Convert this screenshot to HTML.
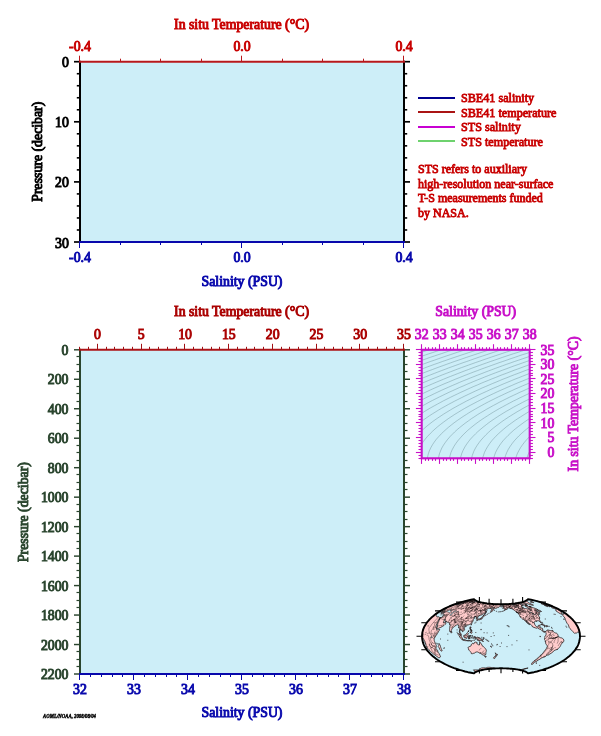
<!DOCTYPE html>
<html><head><meta charset="utf-8"><title>Float profile</title>
<style>
html,body{margin:0;padding:0;background:#fff;}
body{width:601px;height:736px;overflow:hidden;font-family:"Liberation Serif",serif;}
svg{display:block;font-family:"Liberation Serif",serif;will-change:transform;transform:translateZ(0);}
</style></head><body>
<svg width="601" height="736" viewBox="0 0 601 736">
<rect width="601" height="736" fill="#ffffff"/>
<rect x="80.0" y="61.7" width="324.0" height="180.3" fill="#cdeef8"/>
<line x1="80.00" y1="60.70" x2="80.00" y2="243.00" stroke="#000000" stroke-width="2"/>
<line x1="80.00" y1="61.70" x2="74.00" y2="61.70" stroke="#000000" stroke-width="1.7"/>
<line x1="80.00" y1="73.72" x2="76.80" y2="73.72" stroke="#000000" stroke-width="1.6"/>
<line x1="80.00" y1="85.74" x2="76.80" y2="85.74" stroke="#000000" stroke-width="1.6"/>
<line x1="80.00" y1="97.76" x2="76.80" y2="97.76" stroke="#000000" stroke-width="1.6"/>
<line x1="80.00" y1="109.78" x2="76.80" y2="109.78" stroke="#000000" stroke-width="1.6"/>
<line x1="80.00" y1="121.80" x2="74.00" y2="121.80" stroke="#000000" stroke-width="1.7"/>
<line x1="80.00" y1="133.82" x2="76.80" y2="133.82" stroke="#000000" stroke-width="1.6"/>
<line x1="80.00" y1="145.84" x2="76.80" y2="145.84" stroke="#000000" stroke-width="1.6"/>
<line x1="80.00" y1="157.86" x2="76.80" y2="157.86" stroke="#000000" stroke-width="1.6"/>
<line x1="80.00" y1="169.88" x2="76.80" y2="169.88" stroke="#000000" stroke-width="1.6"/>
<line x1="80.00" y1="181.90" x2="74.00" y2="181.90" stroke="#000000" stroke-width="1.7"/>
<line x1="80.00" y1="193.92" x2="76.80" y2="193.92" stroke="#000000" stroke-width="1.6"/>
<line x1="80.00" y1="205.94" x2="76.80" y2="205.94" stroke="#000000" stroke-width="1.6"/>
<line x1="80.00" y1="217.96" x2="76.80" y2="217.96" stroke="#000000" stroke-width="1.6"/>
<line x1="80.00" y1="229.98" x2="76.80" y2="229.98" stroke="#000000" stroke-width="1.6"/>
<line x1="80.00" y1="242.00" x2="74.00" y2="242.00" stroke="#000000" stroke-width="1.7"/>
<line x1="404.00" y1="60.70" x2="404.00" y2="243.00" stroke="#000000" stroke-width="2"/>
<line x1="404.00" y1="61.70" x2="410.00" y2="61.70" stroke="#000000" stroke-width="1.7"/>
<line x1="404.00" y1="73.72" x2="407.20" y2="73.72" stroke="#000000" stroke-width="1.6"/>
<line x1="404.00" y1="85.74" x2="407.20" y2="85.74" stroke="#000000" stroke-width="1.6"/>
<line x1="404.00" y1="97.76" x2="407.20" y2="97.76" stroke="#000000" stroke-width="1.6"/>
<line x1="404.00" y1="109.78" x2="407.20" y2="109.78" stroke="#000000" stroke-width="1.6"/>
<line x1="404.00" y1="121.80" x2="410.00" y2="121.80" stroke="#000000" stroke-width="1.7"/>
<line x1="404.00" y1="133.82" x2="407.20" y2="133.82" stroke="#000000" stroke-width="1.6"/>
<line x1="404.00" y1="145.84" x2="407.20" y2="145.84" stroke="#000000" stroke-width="1.6"/>
<line x1="404.00" y1="157.86" x2="407.20" y2="157.86" stroke="#000000" stroke-width="1.6"/>
<line x1="404.00" y1="169.88" x2="407.20" y2="169.88" stroke="#000000" stroke-width="1.6"/>
<line x1="404.00" y1="181.90" x2="410.00" y2="181.90" stroke="#000000" stroke-width="1.7"/>
<line x1="404.00" y1="193.92" x2="407.20" y2="193.92" stroke="#000000" stroke-width="1.6"/>
<line x1="404.00" y1="205.94" x2="407.20" y2="205.94" stroke="#000000" stroke-width="1.6"/>
<line x1="404.00" y1="217.96" x2="407.20" y2="217.96" stroke="#000000" stroke-width="1.6"/>
<line x1="404.00" y1="229.98" x2="407.20" y2="229.98" stroke="#000000" stroke-width="1.6"/>
<line x1="404.00" y1="242.00" x2="410.00" y2="242.00" stroke="#000000" stroke-width="1.7"/>
<line x1="79.00" y1="61.70" x2="405.00" y2="61.70" stroke="#b8181c" stroke-width="2"/>
<line x1="79.50" y1="61.70" x2="79.50" y2="55.70" stroke="#b8181c" stroke-width="1"/>
<line x1="120.50" y1="61.70" x2="120.50" y2="58.70" stroke="#b8181c" stroke-width="1"/>
<line x1="160.50" y1="61.70" x2="160.50" y2="58.70" stroke="#b8181c" stroke-width="1"/>
<line x1="201.50" y1="61.70" x2="201.50" y2="58.70" stroke="#b8181c" stroke-width="1"/>
<line x1="241.50" y1="61.70" x2="241.50" y2="55.70" stroke="#b8181c" stroke-width="1"/>
<line x1="282.50" y1="61.70" x2="282.50" y2="58.70" stroke="#b8181c" stroke-width="1"/>
<line x1="322.50" y1="61.70" x2="322.50" y2="58.70" stroke="#b8181c" stroke-width="1"/>
<line x1="363.50" y1="61.70" x2="363.50" y2="58.70" stroke="#b8181c" stroke-width="1"/>
<line x1="403.50" y1="61.70" x2="403.50" y2="55.70" stroke="#b8181c" stroke-width="1"/>
<line x1="79.00" y1="242.00" x2="405.00" y2="242.00" stroke="#0808ac" stroke-width="2"/>
<line x1="79.50" y1="242.00" x2="79.50" y2="248.00" stroke="#0808ac" stroke-width="1"/>
<line x1="120.50" y1="242.00" x2="120.50" y2="245.00" stroke="#0808ac" stroke-width="1"/>
<line x1="160.50" y1="242.00" x2="160.50" y2="245.00" stroke="#0808ac" stroke-width="1"/>
<line x1="201.50" y1="242.00" x2="201.50" y2="245.00" stroke="#0808ac" stroke-width="1"/>
<line x1="241.50" y1="242.00" x2="241.50" y2="248.00" stroke="#0808ac" stroke-width="1"/>
<line x1="282.50" y1="242.00" x2="282.50" y2="245.00" stroke="#0808ac" stroke-width="1"/>
<line x1="322.50" y1="242.00" x2="322.50" y2="245.00" stroke="#0808ac" stroke-width="1"/>
<line x1="363.50" y1="242.00" x2="363.50" y2="245.00" stroke="#0808ac" stroke-width="1"/>
<line x1="403.50" y1="242.00" x2="403.50" y2="248.00" stroke="#0808ac" stroke-width="1"/>
<text transform="translate(80.00,50.50) scale(1,1)" fill="#c80000" stroke="#c80000" stroke-width="0.95" font-size="13.8" text-anchor="middle" font-weight="normal" >-0.4</text>
<text transform="translate(80.00,261.90) scale(1,1)" fill="#0808ac" stroke="#0808ac" stroke-width="0.95" font-size="13.8" text-anchor="middle" font-weight="normal" >-0.4</text>
<text transform="translate(242.00,50.50) scale(1,1)" fill="#c80000" stroke="#c80000" stroke-width="0.95" font-size="13.8" text-anchor="middle" font-weight="normal" >0.0</text>
<text transform="translate(242.00,261.90) scale(1,1)" fill="#0808ac" stroke="#0808ac" stroke-width="0.95" font-size="13.8" text-anchor="middle" font-weight="normal" >0.0</text>
<text transform="translate(404.00,50.50) scale(1,1)" fill="#c80000" stroke="#c80000" stroke-width="0.95" font-size="13.8" text-anchor="middle" font-weight="normal" >0.4</text>
<text transform="translate(404.00,261.90) scale(1,1)" fill="#0808ac" stroke="#0808ac" stroke-width="0.95" font-size="13.8" text-anchor="middle" font-weight="normal" >0.4</text>
<text transform="translate(68.80,67.20) scale(1,1)" fill="#000000" stroke="#000000" stroke-width="0.95" font-size="13.8" text-anchor="end" font-weight="normal" >0</text>
<text transform="translate(68.80,127.30) scale(1,1)" fill="#000000" stroke="#000000" stroke-width="0.95" font-size="13.8" text-anchor="end" font-weight="normal" >10</text>
<text transform="translate(68.80,187.40) scale(1,1)" fill="#000000" stroke="#000000" stroke-width="0.95" font-size="13.8" text-anchor="end" font-weight="normal" >20</text>
<text transform="translate(68.80,247.50) scale(1,1)" fill="#000000" stroke="#000000" stroke-width="0.95" font-size="13.8" text-anchor="end" font-weight="normal" >30</text>
<text transform="translate(241.50,29.00) scale(1,1)" fill="#c80000" stroke="#c80000" stroke-width="0.95" font-size="13.8" text-anchor="middle" font-weight="normal" >In situ Temperature (&#176;C)</text>
<text transform="translate(242.00,285.50) scale(1,1)" fill="#0808ac" stroke="#0808ac" stroke-width="0.95" font-size="13.8" text-anchor="middle" font-weight="normal" >Salinity (PSU)</text>
<g transform="translate(42,151.7) rotate(-90)">
<text transform="translate(0.00,0.00) scale(1,1)" fill="#000000" stroke="#000000" stroke-width="0.95" font-size="13.8" text-anchor="middle" font-weight="normal" >Pressure (decibar)</text>
</g>
<line x1="418.00" y1="98.00" x2="455.00" y2="98.00" stroke="#000090" stroke-width="2"/>
<text transform="translate(461.00,102.30) scale(1,1)" fill="#c80000" stroke="#c80000" stroke-width="0.8" font-size="12.15" text-anchor="start" font-weight="normal" >SBE41 salinity</text>
<line x1="418.00" y1="112.00" x2="455.00" y2="112.00" stroke="#aa1414" stroke-width="2"/>
<text transform="translate(461.00,116.80) scale(1,1)" fill="#c80000" stroke="#c80000" stroke-width="0.8" font-size="12.15" text-anchor="start" font-weight="normal" >SBE41 temperature</text>
<line x1="418.00" y1="127.00" x2="455.00" y2="127.00" stroke="#c800d2" stroke-width="2"/>
<text transform="translate(461.00,131.30) scale(1,1)" fill="#c80000" stroke="#c80000" stroke-width="0.8" font-size="12.15" text-anchor="start" font-weight="normal" >STS salinity</text>
<line x1="418.00" y1="141.00" x2="455.00" y2="141.00" stroke="#6ed26e" stroke-width="2"/>
<text transform="translate(461.00,145.80) scale(1,1)" fill="#c80000" stroke="#c80000" stroke-width="0.8" font-size="12.15" text-anchor="start" font-weight="normal" >STS temperature</text>
<text transform="translate(418.00,173.40) scale(1,1)" fill="#c80000" stroke="#c80000" stroke-width="0.8" font-size="12" text-anchor="start" font-weight="normal" >STS refers to auxiliary</text>
<text transform="translate(418.00,187.80) scale(1,1)" fill="#c80000" stroke="#c80000" stroke-width="0.8" font-size="12" text-anchor="start" font-weight="normal" >high-resolution near-surface</text>
<text transform="translate(418.00,202.20) scale(1,1)" fill="#c80000" stroke="#c80000" stroke-width="0.8" font-size="12" text-anchor="start" font-weight="normal" >T-S measurements funded</text>
<text transform="translate(418.00,216.60) scale(1,1)" fill="#c80000" stroke="#c80000" stroke-width="0.8" font-size="12" text-anchor="start" font-weight="normal" >by NASA.</text>
<rect x="80.0" y="349.8" width="324.0" height="324.2" fill="#cdeef8"/>
<line x1="80.00" y1="348.80" x2="80.00" y2="675.00" stroke="#2a452e" stroke-width="2"/>
<line x1="80.00" y1="349.80" x2="74.00" y2="349.80" stroke="#2a452e" stroke-width="1.45"/>
<line x1="80.00" y1="356.50" x2="76.50" y2="356.50" stroke="#2a452e" stroke-width="1.2"/>
<line x1="80.00" y1="364.50" x2="76.50" y2="364.50" stroke="#2a452e" stroke-width="1.2"/>
<line x1="80.00" y1="371.50" x2="76.50" y2="371.50" stroke="#2a452e" stroke-width="1.2"/>
<line x1="80.00" y1="379.27" x2="74.00" y2="379.27" stroke="#2a452e" stroke-width="1.45"/>
<line x1="80.00" y1="386.50" x2="76.50" y2="386.50" stroke="#2a452e" stroke-width="1.2"/>
<line x1="80.00" y1="393.50" x2="76.50" y2="393.50" stroke="#2a452e" stroke-width="1.2"/>
<line x1="80.00" y1="401.50" x2="76.50" y2="401.50" stroke="#2a452e" stroke-width="1.2"/>
<line x1="80.00" y1="408.75" x2="74.00" y2="408.75" stroke="#2a452e" stroke-width="1.45"/>
<line x1="80.00" y1="415.50" x2="76.50" y2="415.50" stroke="#2a452e" stroke-width="1.2"/>
<line x1="80.00" y1="423.50" x2="76.50" y2="423.50" stroke="#2a452e" stroke-width="1.2"/>
<line x1="80.00" y1="430.50" x2="76.50" y2="430.50" stroke="#2a452e" stroke-width="1.2"/>
<line x1="80.00" y1="438.22" x2="74.00" y2="438.22" stroke="#2a452e" stroke-width="1.45"/>
<line x1="80.00" y1="445.50" x2="76.50" y2="445.50" stroke="#2a452e" stroke-width="1.2"/>
<line x1="80.00" y1="452.50" x2="76.50" y2="452.50" stroke="#2a452e" stroke-width="1.2"/>
<line x1="80.00" y1="460.50" x2="76.50" y2="460.50" stroke="#2a452e" stroke-width="1.2"/>
<line x1="80.00" y1="467.69" x2="74.00" y2="467.69" stroke="#2a452e" stroke-width="1.45"/>
<line x1="80.00" y1="474.50" x2="76.50" y2="474.50" stroke="#2a452e" stroke-width="1.2"/>
<line x1="80.00" y1="482.50" x2="76.50" y2="482.50" stroke="#2a452e" stroke-width="1.2"/>
<line x1="80.00" y1="489.50" x2="76.50" y2="489.50" stroke="#2a452e" stroke-width="1.2"/>
<line x1="80.00" y1="497.16" x2="74.00" y2="497.16" stroke="#2a452e" stroke-width="1.45"/>
<line x1="80.00" y1="504.50" x2="76.50" y2="504.50" stroke="#2a452e" stroke-width="1.2"/>
<line x1="80.00" y1="511.50" x2="76.50" y2="511.50" stroke="#2a452e" stroke-width="1.2"/>
<line x1="80.00" y1="519.50" x2="76.50" y2="519.50" stroke="#2a452e" stroke-width="1.2"/>
<line x1="80.00" y1="526.64" x2="74.00" y2="526.64" stroke="#2a452e" stroke-width="1.45"/>
<line x1="80.00" y1="533.50" x2="76.50" y2="533.50" stroke="#2a452e" stroke-width="1.2"/>
<line x1="80.00" y1="541.50" x2="76.50" y2="541.50" stroke="#2a452e" stroke-width="1.2"/>
<line x1="80.00" y1="548.50" x2="76.50" y2="548.50" stroke="#2a452e" stroke-width="1.2"/>
<line x1="80.00" y1="556.11" x2="74.00" y2="556.11" stroke="#2a452e" stroke-width="1.45"/>
<line x1="80.00" y1="563.50" x2="76.50" y2="563.50" stroke="#2a452e" stroke-width="1.2"/>
<line x1="80.00" y1="570.50" x2="76.50" y2="570.50" stroke="#2a452e" stroke-width="1.2"/>
<line x1="80.00" y1="577.50" x2="76.50" y2="577.50" stroke="#2a452e" stroke-width="1.2"/>
<line x1="80.00" y1="585.58" x2="74.00" y2="585.58" stroke="#2a452e" stroke-width="1.45"/>
<line x1="80.00" y1="592.50" x2="76.50" y2="592.50" stroke="#2a452e" stroke-width="1.2"/>
<line x1="80.00" y1="600.50" x2="76.50" y2="600.50" stroke="#2a452e" stroke-width="1.2"/>
<line x1="80.00" y1="607.50" x2="76.50" y2="607.50" stroke="#2a452e" stroke-width="1.2"/>
<line x1="80.00" y1="615.05" x2="74.00" y2="615.05" stroke="#2a452e" stroke-width="1.45"/>
<line x1="80.00" y1="622.50" x2="76.50" y2="622.50" stroke="#2a452e" stroke-width="1.2"/>
<line x1="80.00" y1="629.50" x2="76.50" y2="629.50" stroke="#2a452e" stroke-width="1.2"/>
<line x1="80.00" y1="636.50" x2="76.50" y2="636.50" stroke="#2a452e" stroke-width="1.2"/>
<line x1="80.00" y1="644.53" x2="74.00" y2="644.53" stroke="#2a452e" stroke-width="1.45"/>
<line x1="80.00" y1="651.50" x2="76.50" y2="651.50" stroke="#2a452e" stroke-width="1.2"/>
<line x1="80.00" y1="659.50" x2="76.50" y2="659.50" stroke="#2a452e" stroke-width="1.2"/>
<line x1="80.00" y1="666.50" x2="76.50" y2="666.50" stroke="#2a452e" stroke-width="1.2"/>
<line x1="80.00" y1="674.00" x2="74.00" y2="674.00" stroke="#2a452e" stroke-width="1.45"/>
<line x1="404.00" y1="348.80" x2="404.00" y2="675.00" stroke="#2a452e" stroke-width="2"/>
<line x1="404.00" y1="349.80" x2="410.00" y2="349.80" stroke="#2a452e" stroke-width="1.45"/>
<line x1="404.00" y1="356.50" x2="407.50" y2="356.50" stroke="#2a452e" stroke-width="1.2"/>
<line x1="404.00" y1="364.50" x2="407.50" y2="364.50" stroke="#2a452e" stroke-width="1.2"/>
<line x1="404.00" y1="371.50" x2="407.50" y2="371.50" stroke="#2a452e" stroke-width="1.2"/>
<line x1="404.00" y1="379.27" x2="410.00" y2="379.27" stroke="#2a452e" stroke-width="1.45"/>
<line x1="404.00" y1="386.50" x2="407.50" y2="386.50" stroke="#2a452e" stroke-width="1.2"/>
<line x1="404.00" y1="393.50" x2="407.50" y2="393.50" stroke="#2a452e" stroke-width="1.2"/>
<line x1="404.00" y1="401.50" x2="407.50" y2="401.50" stroke="#2a452e" stroke-width="1.2"/>
<line x1="404.00" y1="408.75" x2="410.00" y2="408.75" stroke="#2a452e" stroke-width="1.45"/>
<line x1="404.00" y1="415.50" x2="407.50" y2="415.50" stroke="#2a452e" stroke-width="1.2"/>
<line x1="404.00" y1="423.50" x2="407.50" y2="423.50" stroke="#2a452e" stroke-width="1.2"/>
<line x1="404.00" y1="430.50" x2="407.50" y2="430.50" stroke="#2a452e" stroke-width="1.2"/>
<line x1="404.00" y1="438.22" x2="410.00" y2="438.22" stroke="#2a452e" stroke-width="1.45"/>
<line x1="404.00" y1="445.50" x2="407.50" y2="445.50" stroke="#2a452e" stroke-width="1.2"/>
<line x1="404.00" y1="452.50" x2="407.50" y2="452.50" stroke="#2a452e" stroke-width="1.2"/>
<line x1="404.00" y1="460.50" x2="407.50" y2="460.50" stroke="#2a452e" stroke-width="1.2"/>
<line x1="404.00" y1="467.69" x2="410.00" y2="467.69" stroke="#2a452e" stroke-width="1.45"/>
<line x1="404.00" y1="474.50" x2="407.50" y2="474.50" stroke="#2a452e" stroke-width="1.2"/>
<line x1="404.00" y1="482.50" x2="407.50" y2="482.50" stroke="#2a452e" stroke-width="1.2"/>
<line x1="404.00" y1="489.50" x2="407.50" y2="489.50" stroke="#2a452e" stroke-width="1.2"/>
<line x1="404.00" y1="497.16" x2="410.00" y2="497.16" stroke="#2a452e" stroke-width="1.45"/>
<line x1="404.00" y1="504.50" x2="407.50" y2="504.50" stroke="#2a452e" stroke-width="1.2"/>
<line x1="404.00" y1="511.50" x2="407.50" y2="511.50" stroke="#2a452e" stroke-width="1.2"/>
<line x1="404.00" y1="519.50" x2="407.50" y2="519.50" stroke="#2a452e" stroke-width="1.2"/>
<line x1="404.00" y1="526.64" x2="410.00" y2="526.64" stroke="#2a452e" stroke-width="1.45"/>
<line x1="404.00" y1="533.50" x2="407.50" y2="533.50" stroke="#2a452e" stroke-width="1.2"/>
<line x1="404.00" y1="541.50" x2="407.50" y2="541.50" stroke="#2a452e" stroke-width="1.2"/>
<line x1="404.00" y1="548.50" x2="407.50" y2="548.50" stroke="#2a452e" stroke-width="1.2"/>
<line x1="404.00" y1="556.11" x2="410.00" y2="556.11" stroke="#2a452e" stroke-width="1.45"/>
<line x1="404.00" y1="563.50" x2="407.50" y2="563.50" stroke="#2a452e" stroke-width="1.2"/>
<line x1="404.00" y1="570.50" x2="407.50" y2="570.50" stroke="#2a452e" stroke-width="1.2"/>
<line x1="404.00" y1="577.50" x2="407.50" y2="577.50" stroke="#2a452e" stroke-width="1.2"/>
<line x1="404.00" y1="585.58" x2="410.00" y2="585.58" stroke="#2a452e" stroke-width="1.45"/>
<line x1="404.00" y1="592.50" x2="407.50" y2="592.50" stroke="#2a452e" stroke-width="1.2"/>
<line x1="404.00" y1="600.50" x2="407.50" y2="600.50" stroke="#2a452e" stroke-width="1.2"/>
<line x1="404.00" y1="607.50" x2="407.50" y2="607.50" stroke="#2a452e" stroke-width="1.2"/>
<line x1="404.00" y1="615.05" x2="410.00" y2="615.05" stroke="#2a452e" stroke-width="1.45"/>
<line x1="404.00" y1="622.50" x2="407.50" y2="622.50" stroke="#2a452e" stroke-width="1.2"/>
<line x1="404.00" y1="629.50" x2="407.50" y2="629.50" stroke="#2a452e" stroke-width="1.2"/>
<line x1="404.00" y1="636.50" x2="407.50" y2="636.50" stroke="#2a452e" stroke-width="1.2"/>
<line x1="404.00" y1="644.53" x2="410.00" y2="644.53" stroke="#2a452e" stroke-width="1.45"/>
<line x1="404.00" y1="651.50" x2="407.50" y2="651.50" stroke="#2a452e" stroke-width="1.2"/>
<line x1="404.00" y1="659.50" x2="407.50" y2="659.50" stroke="#2a452e" stroke-width="1.2"/>
<line x1="404.00" y1="666.50" x2="407.50" y2="666.50" stroke="#2a452e" stroke-width="1.2"/>
<line x1="404.00" y1="674.00" x2="410.00" y2="674.00" stroke="#2a452e" stroke-width="1.45"/>
<line x1="79.00" y1="349.80" x2="405.00" y2="349.80" stroke="#ac1216" stroke-width="2"/>
<line x1="79.50" y1="349.80" x2="79.50" y2="346.80" stroke="#a01014" stroke-width="1"/>
<line x1="88.50" y1="349.80" x2="88.50" y2="346.80" stroke="#a01014" stroke-width="1"/>
<line x1="97.50" y1="349.80" x2="97.50" y2="343.80" stroke="#a01014" stroke-width="1"/>
<text transform="translate(97.51,339.00) scale(1,1)" fill="#aa0000" stroke="#aa0000" stroke-width="0.95" font-size="13.8" text-anchor="middle" font-weight="normal" >0</text>
<line x1="106.50" y1="349.80" x2="106.50" y2="346.80" stroke="#a01014" stroke-width="1"/>
<line x1="114.50" y1="349.80" x2="114.50" y2="346.80" stroke="#a01014" stroke-width="1"/>
<line x1="123.50" y1="349.80" x2="123.50" y2="346.80" stroke="#a01014" stroke-width="1"/>
<line x1="132.50" y1="349.80" x2="132.50" y2="346.80" stroke="#a01014" stroke-width="1"/>
<line x1="141.50" y1="349.80" x2="141.50" y2="343.80" stroke="#a01014" stroke-width="1"/>
<text transform="translate(141.30,339.00) scale(1,1)" fill="#aa0000" stroke="#aa0000" stroke-width="0.95" font-size="13.8" text-anchor="middle" font-weight="normal" >5</text>
<line x1="149.50" y1="349.80" x2="149.50" y2="346.80" stroke="#a01014" stroke-width="1"/>
<line x1="158.50" y1="349.80" x2="158.50" y2="346.80" stroke="#a01014" stroke-width="1"/>
<line x1="167.50" y1="349.80" x2="167.50" y2="346.80" stroke="#a01014" stroke-width="1"/>
<line x1="176.50" y1="349.80" x2="176.50" y2="346.80" stroke="#a01014" stroke-width="1"/>
<line x1="184.50" y1="349.80" x2="184.50" y2="343.80" stroke="#a01014" stroke-width="1"/>
<text transform="translate(185.08,339.00) scale(1,1)" fill="#aa0000" stroke="#aa0000" stroke-width="0.95" font-size="13.8" text-anchor="middle" font-weight="normal" >10</text>
<line x1="193.50" y1="349.80" x2="193.50" y2="346.80" stroke="#a01014" stroke-width="1"/>
<line x1="202.50" y1="349.80" x2="202.50" y2="346.80" stroke="#a01014" stroke-width="1"/>
<line x1="211.50" y1="349.80" x2="211.50" y2="346.80" stroke="#a01014" stroke-width="1"/>
<line x1="219.50" y1="349.80" x2="219.50" y2="346.80" stroke="#a01014" stroke-width="1"/>
<line x1="228.50" y1="349.80" x2="228.50" y2="343.80" stroke="#a01014" stroke-width="1"/>
<text transform="translate(228.86,339.00) scale(1,1)" fill="#aa0000" stroke="#aa0000" stroke-width="0.95" font-size="13.8" text-anchor="middle" font-weight="normal" >15</text>
<line x1="237.50" y1="349.80" x2="237.50" y2="346.80" stroke="#a01014" stroke-width="1"/>
<line x1="246.50" y1="349.80" x2="246.50" y2="346.80" stroke="#a01014" stroke-width="1"/>
<line x1="254.50" y1="349.80" x2="254.50" y2="346.80" stroke="#a01014" stroke-width="1"/>
<line x1="263.50" y1="349.80" x2="263.50" y2="346.80" stroke="#a01014" stroke-width="1"/>
<line x1="272.50" y1="349.80" x2="272.50" y2="343.80" stroke="#a01014" stroke-width="1"/>
<text transform="translate(272.65,339.00) scale(1,1)" fill="#aa0000" stroke="#aa0000" stroke-width="0.95" font-size="13.8" text-anchor="middle" font-weight="normal" >20</text>
<line x1="281.50" y1="349.80" x2="281.50" y2="346.80" stroke="#a01014" stroke-width="1"/>
<line x1="289.50" y1="349.80" x2="289.50" y2="346.80" stroke="#a01014" stroke-width="1"/>
<line x1="298.50" y1="349.80" x2="298.50" y2="346.80" stroke="#a01014" stroke-width="1"/>
<line x1="307.50" y1="349.80" x2="307.50" y2="346.80" stroke="#a01014" stroke-width="1"/>
<line x1="316.50" y1="349.80" x2="316.50" y2="343.80" stroke="#a01014" stroke-width="1"/>
<text transform="translate(316.43,339.00) scale(1,1)" fill="#aa0000" stroke="#aa0000" stroke-width="0.95" font-size="13.8" text-anchor="middle" font-weight="normal" >25</text>
<line x1="324.50" y1="349.80" x2="324.50" y2="346.80" stroke="#a01014" stroke-width="1"/>
<line x1="333.50" y1="349.80" x2="333.50" y2="346.80" stroke="#a01014" stroke-width="1"/>
<line x1="342.50" y1="349.80" x2="342.50" y2="346.80" stroke="#a01014" stroke-width="1"/>
<line x1="351.50" y1="349.80" x2="351.50" y2="346.80" stroke="#a01014" stroke-width="1"/>
<line x1="359.50" y1="349.80" x2="359.50" y2="343.80" stroke="#a01014" stroke-width="1"/>
<text transform="translate(360.22,339.00) scale(1,1)" fill="#aa0000" stroke="#aa0000" stroke-width="0.95" font-size="13.8" text-anchor="middle" font-weight="normal" >30</text>
<line x1="368.50" y1="349.80" x2="368.50" y2="346.80" stroke="#a01014" stroke-width="1"/>
<line x1="377.50" y1="349.80" x2="377.50" y2="346.80" stroke="#a01014" stroke-width="1"/>
<line x1="386.50" y1="349.80" x2="386.50" y2="346.80" stroke="#a01014" stroke-width="1"/>
<line x1="394.50" y1="349.80" x2="394.50" y2="346.80" stroke="#a01014" stroke-width="1"/>
<line x1="403.50" y1="349.80" x2="403.50" y2="343.80" stroke="#a01014" stroke-width="1"/>
<text transform="translate(404.00,339.00) scale(1,1)" fill="#aa0000" stroke="#aa0000" stroke-width="0.95" font-size="13.8" text-anchor="middle" font-weight="normal" >35</text>
<line x1="79.00" y1="674.00" x2="405.00" y2="674.00" stroke="#0808ac" stroke-width="2"/>
<line x1="79.50" y1="674.00" x2="79.50" y2="680.00" stroke="#0808ac" stroke-width="1"/>
<text transform="translate(80.00,694.20) scale(1,1)" fill="#0808ac" stroke="#0808ac" stroke-width="0.95" font-size="13.8" text-anchor="middle" font-weight="normal" >32</text>
<line x1="90.50" y1="674.00" x2="90.50" y2="677.00" stroke="#0808ac" stroke-width="1"/>
<line x1="101.50" y1="674.00" x2="101.50" y2="677.00" stroke="#0808ac" stroke-width="1"/>
<line x1="112.50" y1="674.00" x2="112.50" y2="677.00" stroke="#0808ac" stroke-width="1"/>
<line x1="122.50" y1="674.00" x2="122.50" y2="677.00" stroke="#0808ac" stroke-width="1"/>
<line x1="133.50" y1="674.00" x2="133.50" y2="680.00" stroke="#0808ac" stroke-width="1"/>
<text transform="translate(134.00,694.20) scale(1,1)" fill="#0808ac" stroke="#0808ac" stroke-width="0.95" font-size="13.8" text-anchor="middle" font-weight="normal" >33</text>
<line x1="144.50" y1="674.00" x2="144.50" y2="677.00" stroke="#0808ac" stroke-width="1"/>
<line x1="155.50" y1="674.00" x2="155.50" y2="677.00" stroke="#0808ac" stroke-width="1"/>
<line x1="166.50" y1="674.00" x2="166.50" y2="677.00" stroke="#0808ac" stroke-width="1"/>
<line x1="176.50" y1="674.00" x2="176.50" y2="677.00" stroke="#0808ac" stroke-width="1"/>
<line x1="187.50" y1="674.00" x2="187.50" y2="680.00" stroke="#0808ac" stroke-width="1"/>
<text transform="translate(188.00,694.20) scale(1,1)" fill="#0808ac" stroke="#0808ac" stroke-width="0.95" font-size="13.8" text-anchor="middle" font-weight="normal" >34</text>
<line x1="198.50" y1="674.00" x2="198.50" y2="677.00" stroke="#0808ac" stroke-width="1"/>
<line x1="209.50" y1="674.00" x2="209.50" y2="677.00" stroke="#0808ac" stroke-width="1"/>
<line x1="220.50" y1="674.00" x2="220.50" y2="677.00" stroke="#0808ac" stroke-width="1"/>
<line x1="230.50" y1="674.00" x2="230.50" y2="677.00" stroke="#0808ac" stroke-width="1"/>
<line x1="241.50" y1="674.00" x2="241.50" y2="680.00" stroke="#0808ac" stroke-width="1"/>
<text transform="translate(242.00,694.20) scale(1,1)" fill="#0808ac" stroke="#0808ac" stroke-width="0.95" font-size="13.8" text-anchor="middle" font-weight="normal" >35</text>
<line x1="252.50" y1="674.00" x2="252.50" y2="677.00" stroke="#0808ac" stroke-width="1"/>
<line x1="263.50" y1="674.00" x2="263.50" y2="677.00" stroke="#0808ac" stroke-width="1"/>
<line x1="274.50" y1="674.00" x2="274.50" y2="677.00" stroke="#0808ac" stroke-width="1"/>
<line x1="284.50" y1="674.00" x2="284.50" y2="677.00" stroke="#0808ac" stroke-width="1"/>
<line x1="295.50" y1="674.00" x2="295.50" y2="680.00" stroke="#0808ac" stroke-width="1"/>
<text transform="translate(296.00,694.20) scale(1,1)" fill="#0808ac" stroke="#0808ac" stroke-width="0.95" font-size="13.8" text-anchor="middle" font-weight="normal" >36</text>
<line x1="306.50" y1="674.00" x2="306.50" y2="677.00" stroke="#0808ac" stroke-width="1"/>
<line x1="317.50" y1="674.00" x2="317.50" y2="677.00" stroke="#0808ac" stroke-width="1"/>
<line x1="328.50" y1="674.00" x2="328.50" y2="677.00" stroke="#0808ac" stroke-width="1"/>
<line x1="338.50" y1="674.00" x2="338.50" y2="677.00" stroke="#0808ac" stroke-width="1"/>
<line x1="349.50" y1="674.00" x2="349.50" y2="680.00" stroke="#0808ac" stroke-width="1"/>
<text transform="translate(350.00,694.20) scale(1,1)" fill="#0808ac" stroke="#0808ac" stroke-width="0.95" font-size="13.8" text-anchor="middle" font-weight="normal" >37</text>
<line x1="360.50" y1="674.00" x2="360.50" y2="677.00" stroke="#0808ac" stroke-width="1"/>
<line x1="371.50" y1="674.00" x2="371.50" y2="677.00" stroke="#0808ac" stroke-width="1"/>
<line x1="382.50" y1="674.00" x2="382.50" y2="677.00" stroke="#0808ac" stroke-width="1"/>
<line x1="392.50" y1="674.00" x2="392.50" y2="677.00" stroke="#0808ac" stroke-width="1"/>
<line x1="403.50" y1="674.00" x2="403.50" y2="680.00" stroke="#0808ac" stroke-width="1"/>
<text transform="translate(404.00,694.20) scale(1,1)" fill="#0808ac" stroke="#0808ac" stroke-width="0.95" font-size="13.8" text-anchor="middle" font-weight="normal" >38</text>
<text transform="translate(68.50,355.00) scale(1,1)" fill="#2a452e" stroke="#2a452e" stroke-width="0.95" font-size="13.8" text-anchor="end" font-weight="normal" >0</text>
<text transform="translate(68.50,384.47) scale(1,1)" fill="#2a452e" stroke="#2a452e" stroke-width="0.95" font-size="13.8" text-anchor="end" font-weight="normal" >200</text>
<text transform="translate(68.50,413.95) scale(1,1)" fill="#2a452e" stroke="#2a452e" stroke-width="0.95" font-size="13.8" text-anchor="end" font-weight="normal" >400</text>
<text transform="translate(68.50,443.42) scale(1,1)" fill="#2a452e" stroke="#2a452e" stroke-width="0.95" font-size="13.8" text-anchor="end" font-weight="normal" >600</text>
<text transform="translate(68.50,472.89) scale(1,1)" fill="#2a452e" stroke="#2a452e" stroke-width="0.95" font-size="13.8" text-anchor="end" font-weight="normal" >800</text>
<text transform="translate(68.50,502.36) scale(1,1)" fill="#2a452e" stroke="#2a452e" stroke-width="0.95" font-size="13.8" text-anchor="end" font-weight="normal" >1000</text>
<text transform="translate(68.50,531.84) scale(1,1)" fill="#2a452e" stroke="#2a452e" stroke-width="0.95" font-size="13.8" text-anchor="end" font-weight="normal" >1200</text>
<text transform="translate(68.50,561.31) scale(1,1)" fill="#2a452e" stroke="#2a452e" stroke-width="0.95" font-size="13.8" text-anchor="end" font-weight="normal" >1400</text>
<text transform="translate(68.50,590.78) scale(1,1)" fill="#2a452e" stroke="#2a452e" stroke-width="0.95" font-size="13.8" text-anchor="end" font-weight="normal" >1600</text>
<text transform="translate(68.50,620.25) scale(1,1)" fill="#2a452e" stroke="#2a452e" stroke-width="0.95" font-size="13.8" text-anchor="end" font-weight="normal" >1800</text>
<text transform="translate(68.50,649.73) scale(1,1)" fill="#2a452e" stroke="#2a452e" stroke-width="0.95" font-size="13.8" text-anchor="end" font-weight="normal" >2000</text>
<text transform="translate(68.50,679.20) scale(1,1)" fill="#2a452e" stroke="#2a452e" stroke-width="0.95" font-size="13.8" text-anchor="end" font-weight="normal" >2200</text>
<text transform="translate(241.50,315.50) scale(1,1)" fill="#aa0000" stroke="#aa0000" stroke-width="0.95" font-size="13.8" text-anchor="middle" font-weight="normal" >In situ Temperature (&#176;C)</text>
<text transform="translate(242.00,717.00) scale(1,1)" fill="#0808ac" stroke="#0808ac" stroke-width="0.95" font-size="13.8" text-anchor="middle" font-weight="normal" >Salinity (PSU)</text>
<g transform="translate(28,512.1) rotate(-90)">
<text transform="translate(0.00,0.00) scale(1,1)" fill="#2a452e" stroke="#2a452e" stroke-width="0.95" font-size="13.8" text-anchor="middle" font-weight="normal" >Pressure (decibar)</text>
</g>
<rect x="421.7" y="349.8" width="108.00000000000006" height="108.5" fill="#cdeef8"/>
<path d="M428.9 349.8L425.3 351.0L421.7 352.2M441.0 349.8L436.5 351.3L432.5 352.6L428.9 353.8L425.3 355.0L421.7 356.2M453.1 349.8L448.7 351.2L445.1 352.4L441.5 353.6L437.9 354.8L434.3 356.0L430.7 357.2L426.7 358.6L422.5 360.1L421.7 360.3M465.2 349.8L461.3 351.1L457.7 352.2L454.1 353.4L450.5 354.6L446.9 355.8L443.1 357.1L438.8 358.6L434.6 360.1L430.7 361.4L427.1 362.7L423.5 364.0L421.7 364.6M477.3 349.8L472.8 351.3L468.5 352.7L464.9 353.9L461.3 355.1L457.7 356.3L454.1 357.5L450.5 358.7L446.6 360.1L442.4 361.5L438.3 363.0L434.3 364.4L430.7 365.7L427.1 367.0L423.5 368.4L421.7 369.0M489.4 349.8L484.9 351.3L481.1 352.5L477.5 353.7L473.9 354.9L470.3 356.1L466.7 357.3L462.9 358.6L458.6 360.1L454.4 361.5L450.5 362.9L446.9 364.2L443.3 365.5L439.7 366.8L436.1 368.1L432.5 369.5L428.9 370.8L425.3 372.2L421.7 373.6M501.5 349.8L497.3 351.1L493.7 352.3L490.1 353.5L486.5 354.7L482.9 355.9L479.2 357.1L474.9 358.6L470.7 360.1L466.7 361.5L463.1 362.7L459.5 364.0L455.9 365.3L452.3 366.6L448.7 367.9L445.1 369.3L441.5 370.6L437.9 372.0L434.3 373.4L430.7 374.8L427.1 376.2L423.5 377.7L421.7 378.4M513.5 349.8L509.9 351.0L506.3 352.1L502.7 353.3L499.1 354.5L495.5 355.7L491.3 357.1L487.0 358.6L482.9 360.0L479.3 361.3L475.7 362.5L472.1 363.8L468.5 365.1L464.9 366.4L461.3 367.7L457.7 369.0L454.1 370.4L450.4 371.8L446.5 373.3L442.8 374.7L439.1 376.2L435.4 377.7L431.8 379.1L428.2 380.6L424.7 382.1L421.7 383.3M525.6 349.8L521.1 351.3L517.1 352.6L513.5 353.7L509.9 354.9L506.3 356.1L502.7 357.3L499.0 358.6L494.7 360.1L490.5 361.5L486.5 362.9L482.9 364.2L479.3 365.5L475.7 366.8L472.1 368.1L468.5 369.5L464.9 370.8L461.3 372.2L457.7 373.6L454.1 375.0L450.5 376.4L446.9 377.8L443.3 379.3L439.7 380.8L436.1 382.3L432.5 383.8L428.9 385.4L425.3 386.9L421.7 388.5M529.7 352.4L526.1 353.6L522.5 354.7L518.9 355.9L515.3 357.2L511.0 358.6L506.8 360.1L502.7 361.5L499.1 362.7L495.5 364.0L491.9 365.3L488.3 366.6L484.7 367.9L481.1 369.2L477.5 370.6L473.9 371.9L470.3 373.3L466.7 374.7L462.9 376.2L459.2 377.7L455.6 379.1L452.0 380.6L448.5 382.1L445.0 383.5L441.5 385.0L437.9 386.6L434.3 388.2L430.7 389.8L427.1 391.5L423.5 393.2L421.7 394.1M529.7 356.4L526.1 357.6L522.5 358.8L518.8 360.1L514.5 361.5L510.3 363.0L506.3 364.4L502.7 365.7L499.1 367.0L495.5 368.3L491.9 369.7L488.3 371.0L484.7 372.4L481.1 373.8L477.5 375.2L473.9 376.6L470.3 378.0L466.7 379.5L463.1 380.9L459.5 382.4L455.9 384.0L452.3 385.5L448.7 387.1L445.1 388.7L441.5 390.3L437.9 392.0L434.3 393.7L431.0 395.3L428.0 396.7L425.1 398.2L421.7 399.9M529.7 360.4L526.1 361.7L522.3 363.0L518.2 364.5L514.1 365.9L510.0 367.4L506.3 368.8L502.7 370.1L499.1 371.5L495.5 372.8L491.9 374.2L488.3 375.6L484.7 377.0L481.1 378.5L477.5 379.9L473.9 381.4L470.3 382.9L466.7 384.4L463.1 386.0L459.5 387.5L455.9 389.2L452.3 390.8L449.0 392.3L445.9 393.8L442.8 395.3L439.7 396.8L436.1 398.6L432.5 400.4L428.9 402.3L425.7 404.1L423.1 405.5L421.7 406.3M529.7 364.6L526.1 365.9L522.0 367.4L518.0 368.9L514.0 370.3L510.1 371.8L506.3 373.3L502.7 374.6L499.1 376.0L495.5 377.5L491.9 378.9L488.3 380.4L484.7 381.8L481.1 383.3L477.5 384.9L473.9 386.4L470.5 387.9L467.2 389.4L464.0 390.9L460.8 392.3L457.7 393.8L454.1 395.5L450.5 397.3L446.9 399.1L443.3 400.9L440.2 402.6L437.4 404.1L434.3 405.8L430.7 407.8L427.1 409.9L424.7 411.4L421.7 413.3M529.7 369.0L526.0 370.3L522.1 371.8L518.2 373.3L514.4 374.7L510.6 376.2L506.9 377.7L503.2 379.1L499.6 380.6L496.1 382.1L492.6 383.5L489.1 385.0L485.7 386.5L482.3 387.9L479.1 389.4L475.7 390.9L472.1 392.6L468.5 394.3L464.9 396.0L461.3 397.8L457.7 399.6L454.7 401.1L451.9 402.6L448.7 404.3L445.1 406.3L441.5 408.3L438.8 409.9L436.1 411.6L432.5 413.8L429.4 415.8L427.1 417.4L423.5 419.9L421.7 421.2M529.7 373.4L526.1 374.8L522.5 376.2L518.8 377.7L515.1 379.1L511.5 380.6L507.9 382.1L504.4 383.5L500.9 385.0L497.3 386.6L493.7 388.1L490.1 389.7L486.5 391.4L482.9 393.0L479.3 394.7L475.7 396.5L472.2 398.2L469.3 399.7L466.4 401.1L463.1 402.9L459.5 404.8L455.9 406.8L453.0 408.4L450.5 409.9L446.9 412.1L443.3 414.3L441.1 415.8L437.9 417.9L434.6 420.2L432.5 421.7L428.9 424.5L427.0 426.0L423.6 429.0L421.7 430.7M529.7 378.1L526.1 379.5L522.5 381.0L518.9 382.4L515.3 383.9L511.7 385.5L508.1 387.0L504.5 388.6L500.9 390.2L497.3 391.8L493.7 393.5L490.1 395.2L486.9 396.7L484.0 398.2L481.0 399.7L477.5 401.5L473.9 403.4L470.3 405.3L467.2 407.0L464.7 408.4L461.3 410.4L457.7 412.6L454.9 414.3L452.3 416.0L448.7 418.4L446.2 420.2L443.3 422.3L440.3 424.6L437.9 426.5L435.0 429.0L432.5 431.3L430.4 433.4L427.6 436.3L425.3 439.0L423.5 441.3L421.7 444.0M529.7 382.9L526.1 384.4L522.5 385.9L518.9 387.5L515.3 389.0L511.7 390.7L508.1 392.3L504.9 393.8L501.8 395.3L498.7 396.7L495.5 398.3L491.9 400.1L488.3 401.9L484.7 403.8L481.6 405.5L478.9 407.0L475.7 408.8L472.1 410.9L468.9 412.8L466.6 414.3L463.1 416.5L459.9 418.7L457.7 420.2L454.1 422.8L451.8 424.6L448.7 427.1L446.5 429.0L443.3 431.9L441.5 433.6L439.0 436.3L436.4 439.2L434.3 442.0L432.5 444.7L430.7 447.9L429.3 451.0L428.3 453.9L427.3 458.3M529.7 387.9L526.3 389.4L523.1 390.9L519.8 392.3L516.7 393.8L513.5 395.3L509.9 397.0L506.3 398.8L502.7 400.6L499.1 402.4L496.0 404.1L493.3 405.5L490.1 407.3L486.5 409.3L483.0 411.4L480.5 412.8L477.5 414.7L473.9 417.1L471.4 418.7L468.5 420.8L465.3 423.1L463.1 424.8L459.7 427.5L457.7 429.2L454.7 431.9L452.3 434.3L450.3 436.3L447.8 439.2L445.5 442.2L443.5 445.1L441.8 448.0L440.5 451.0L439.4 453.9L438.4 458.3M529.7 393.2L526.1 394.9L522.5 396.6L519.2 398.2L516.3 399.7L513.3 401.1L509.9 402.9L506.3 404.8L502.7 406.8L499.7 408.4L497.1 409.9L493.7 411.9L490.1 414.1L487.5 415.8L484.7 417.6L481.1 420.0L478.8 421.6L475.7 423.9L473.0 426.0L470.3 428.2L467.7 430.4L464.9 433.1L463.1 434.8L460.4 437.8L457.9 440.7L455.9 443.4L454.1 446.2L452.3 449.5L451.0 452.4L450.1 455.4L449.5 458.3M529.7 398.8L526.1 400.6L522.5 402.4L519.4 404.1L516.7 405.5L513.5 407.2L509.9 409.3L506.3 411.3L503.8 412.8L500.9 414.6L497.3 416.9L494.6 418.7L491.9 420.5L488.3 423.1L486.4 424.6L482.9 427.3L480.9 429.0L477.5 431.9L475.7 433.7L473.1 436.3L470.4 439.2L468.5 441.6L466.7 444.1L464.9 446.9L463.1 450.3L461.6 453.9L460.8 456.8L460.5 458.3M529.7 404.8L526.1 406.7L523.0 408.4L520.4 409.9L517.1 411.8L513.5 414.0L510.6 415.8L508.1 417.4L504.5 419.8L501.9 421.6L499.1 423.7L496.0 426.0L493.7 427.8L490.6 430.4L488.3 432.5L485.9 434.8L483.1 437.8L481.1 440.0L479.3 442.3L477.3 445.1L475.5 448.0L473.9 451.1L472.3 455.4L471.6 458.3M529.7 411.3L527.0 412.8L524.3 414.5L520.7 416.8L517.7 418.7L515.3 420.3L511.7 422.9L509.4 424.6L506.3 426.9L503.8 429.0L500.9 431.5L498.8 433.4L495.8 436.3L493.7 438.6L491.8 440.7L489.6 443.6L487.6 446.6L485.9 449.5L484.5 452.4L483.0 456.8L482.6 458.3M529.7 418.4L527.1 420.2L524.3 422.1L520.9 424.6L518.9 426.1L515.3 428.9L513.5 430.4L510.2 433.4L508.1 435.4L505.8 437.8L503.1 440.7L500.9 443.5L499.1 446.1L497.3 449.1L495.6 452.4L494.5 455.4L493.7 458.3M529.7 426.6L526.7 429.0L524.3 431.0L521.6 433.4L518.9 435.9L517.1 437.8L514.4 440.7L512.1 443.6L510.0 446.6L508.2 449.5L506.8 452.4L505.6 455.4L504.7 458.3M529.7 436.5L527.1 439.2L524.5 442.2L522.5 444.8L520.7 447.4L518.9 450.5L517.2 453.9L516.2 456.8L515.8 458.3M529.7 451.1L527.9 455.1L526.8 458.3" fill="none" stroke="#5f8088" stroke-width="0.4"/>
<rect x="421.7" y="349.8" width="108.00000000000006" height="108.5" fill="none" stroke="#c810c8" stroke-width="2.1"/>
<line x1="421.50" y1="349.80" x2="421.50" y2="344.20" stroke="#c810c8" stroke-width="1.1"/>
<line x1="421.50" y1="458.30" x2="421.50" y2="463.90" stroke="#c810c8" stroke-width="1.1"/>
<text transform="translate(421.70,338.80) scale(1,1)" fill="#c810c8" stroke="#c810c8" stroke-width="0.95" font-size="13.8" text-anchor="middle" font-weight="normal" >32</text>
<line x1="425.50" y1="349.80" x2="425.50" y2="347.20" stroke="#c810c8" stroke-width="1.1"/>
<line x1="425.50" y1="458.30" x2="425.50" y2="460.90" stroke="#c810c8" stroke-width="1.1"/>
<line x1="428.50" y1="349.80" x2="428.50" y2="347.20" stroke="#c810c8" stroke-width="1.1"/>
<line x1="428.50" y1="458.30" x2="428.50" y2="460.90" stroke="#c810c8" stroke-width="1.1"/>
<line x1="432.50" y1="349.80" x2="432.50" y2="347.20" stroke="#c810c8" stroke-width="1.1"/>
<line x1="432.50" y1="458.30" x2="432.50" y2="460.90" stroke="#c810c8" stroke-width="1.1"/>
<line x1="435.50" y1="349.80" x2="435.50" y2="347.20" stroke="#c810c8" stroke-width="1.1"/>
<line x1="435.50" y1="458.30" x2="435.50" y2="460.90" stroke="#c810c8" stroke-width="1.1"/>
<line x1="439.50" y1="349.80" x2="439.50" y2="344.20" stroke="#c810c8" stroke-width="1.1"/>
<line x1="439.50" y1="458.30" x2="439.50" y2="463.90" stroke="#c810c8" stroke-width="1.1"/>
<text transform="translate(439.70,338.80) scale(1,1)" fill="#c810c8" stroke="#c810c8" stroke-width="0.95" font-size="13.8" text-anchor="middle" font-weight="normal" >33</text>
<line x1="443.50" y1="349.80" x2="443.50" y2="347.20" stroke="#c810c8" stroke-width="1.1"/>
<line x1="443.50" y1="458.30" x2="443.50" y2="460.90" stroke="#c810c8" stroke-width="1.1"/>
<line x1="446.50" y1="349.80" x2="446.50" y2="347.20" stroke="#c810c8" stroke-width="1.1"/>
<line x1="446.50" y1="458.30" x2="446.50" y2="460.90" stroke="#c810c8" stroke-width="1.1"/>
<line x1="450.50" y1="349.80" x2="450.50" y2="347.20" stroke="#c810c8" stroke-width="1.1"/>
<line x1="450.50" y1="458.30" x2="450.50" y2="460.90" stroke="#c810c8" stroke-width="1.1"/>
<line x1="453.50" y1="349.80" x2="453.50" y2="347.20" stroke="#c810c8" stroke-width="1.1"/>
<line x1="453.50" y1="458.30" x2="453.50" y2="460.90" stroke="#c810c8" stroke-width="1.1"/>
<line x1="457.50" y1="349.80" x2="457.50" y2="344.20" stroke="#c810c8" stroke-width="1.1"/>
<line x1="457.50" y1="458.30" x2="457.50" y2="463.90" stroke="#c810c8" stroke-width="1.1"/>
<text transform="translate(457.70,338.80) scale(1,1)" fill="#c810c8" stroke="#c810c8" stroke-width="0.95" font-size="13.8" text-anchor="middle" font-weight="normal" >34</text>
<line x1="461.50" y1="349.80" x2="461.50" y2="347.20" stroke="#c810c8" stroke-width="1.1"/>
<line x1="461.50" y1="458.30" x2="461.50" y2="460.90" stroke="#c810c8" stroke-width="1.1"/>
<line x1="464.50" y1="349.80" x2="464.50" y2="347.20" stroke="#c810c8" stroke-width="1.1"/>
<line x1="464.50" y1="458.30" x2="464.50" y2="460.90" stroke="#c810c8" stroke-width="1.1"/>
<line x1="468.50" y1="349.80" x2="468.50" y2="347.20" stroke="#c810c8" stroke-width="1.1"/>
<line x1="468.50" y1="458.30" x2="468.50" y2="460.90" stroke="#c810c8" stroke-width="1.1"/>
<line x1="471.50" y1="349.80" x2="471.50" y2="347.20" stroke="#c810c8" stroke-width="1.1"/>
<line x1="471.50" y1="458.30" x2="471.50" y2="460.90" stroke="#c810c8" stroke-width="1.1"/>
<line x1="475.50" y1="349.80" x2="475.50" y2="344.20" stroke="#c810c8" stroke-width="1.1"/>
<line x1="475.50" y1="458.30" x2="475.50" y2="463.90" stroke="#c810c8" stroke-width="1.1"/>
<text transform="translate(475.70,338.80) scale(1,1)" fill="#c810c8" stroke="#c810c8" stroke-width="0.95" font-size="13.8" text-anchor="middle" font-weight="normal" >35</text>
<line x1="479.50" y1="349.80" x2="479.50" y2="347.20" stroke="#c810c8" stroke-width="1.1"/>
<line x1="479.50" y1="458.30" x2="479.50" y2="460.90" stroke="#c810c8" stroke-width="1.1"/>
<line x1="482.50" y1="349.80" x2="482.50" y2="347.20" stroke="#c810c8" stroke-width="1.1"/>
<line x1="482.50" y1="458.30" x2="482.50" y2="460.90" stroke="#c810c8" stroke-width="1.1"/>
<line x1="486.50" y1="349.80" x2="486.50" y2="347.20" stroke="#c810c8" stroke-width="1.1"/>
<line x1="486.50" y1="458.30" x2="486.50" y2="460.90" stroke="#c810c8" stroke-width="1.1"/>
<line x1="489.50" y1="349.80" x2="489.50" y2="347.20" stroke="#c810c8" stroke-width="1.1"/>
<line x1="489.50" y1="458.30" x2="489.50" y2="460.90" stroke="#c810c8" stroke-width="1.1"/>
<line x1="493.50" y1="349.80" x2="493.50" y2="344.20" stroke="#c810c8" stroke-width="1.1"/>
<line x1="493.50" y1="458.30" x2="493.50" y2="463.90" stroke="#c810c8" stroke-width="1.1"/>
<text transform="translate(493.70,338.80) scale(1,1)" fill="#c810c8" stroke="#c810c8" stroke-width="0.95" font-size="13.8" text-anchor="middle" font-weight="normal" >36</text>
<line x1="497.50" y1="349.80" x2="497.50" y2="347.20" stroke="#c810c8" stroke-width="1.1"/>
<line x1="497.50" y1="458.30" x2="497.50" y2="460.90" stroke="#c810c8" stroke-width="1.1"/>
<line x1="500.50" y1="349.80" x2="500.50" y2="347.20" stroke="#c810c8" stroke-width="1.1"/>
<line x1="500.50" y1="458.30" x2="500.50" y2="460.90" stroke="#c810c8" stroke-width="1.1"/>
<line x1="504.50" y1="349.80" x2="504.50" y2="347.20" stroke="#c810c8" stroke-width="1.1"/>
<line x1="504.50" y1="458.30" x2="504.50" y2="460.90" stroke="#c810c8" stroke-width="1.1"/>
<line x1="507.50" y1="349.80" x2="507.50" y2="347.20" stroke="#c810c8" stroke-width="1.1"/>
<line x1="507.50" y1="458.30" x2="507.50" y2="460.90" stroke="#c810c8" stroke-width="1.1"/>
<line x1="511.50" y1="349.80" x2="511.50" y2="344.20" stroke="#c810c8" stroke-width="1.1"/>
<line x1="511.50" y1="458.30" x2="511.50" y2="463.90" stroke="#c810c8" stroke-width="1.1"/>
<text transform="translate(511.70,338.80) scale(1,1)" fill="#c810c8" stroke="#c810c8" stroke-width="0.95" font-size="13.8" text-anchor="middle" font-weight="normal" >37</text>
<line x1="515.50" y1="349.80" x2="515.50" y2="347.20" stroke="#c810c8" stroke-width="1.1"/>
<line x1="515.50" y1="458.30" x2="515.50" y2="460.90" stroke="#c810c8" stroke-width="1.1"/>
<line x1="518.50" y1="349.80" x2="518.50" y2="347.20" stroke="#c810c8" stroke-width="1.1"/>
<line x1="518.50" y1="458.30" x2="518.50" y2="460.90" stroke="#c810c8" stroke-width="1.1"/>
<line x1="522.50" y1="349.80" x2="522.50" y2="347.20" stroke="#c810c8" stroke-width="1.1"/>
<line x1="522.50" y1="458.30" x2="522.50" y2="460.90" stroke="#c810c8" stroke-width="1.1"/>
<line x1="525.50" y1="349.80" x2="525.50" y2="347.20" stroke="#c810c8" stroke-width="1.1"/>
<line x1="525.50" y1="458.30" x2="525.50" y2="460.90" stroke="#c810c8" stroke-width="1.1"/>
<line x1="529.50" y1="349.80" x2="529.50" y2="344.20" stroke="#c810c8" stroke-width="1.1"/>
<line x1="529.50" y1="458.30" x2="529.50" y2="463.90" stroke="#c810c8" stroke-width="1.1"/>
<text transform="translate(529.70,338.80) scale(1,1)" fill="#c810c8" stroke="#c810c8" stroke-width="0.95" font-size="13.8" text-anchor="middle" font-weight="normal" >38</text>
<line x1="421.70" y1="458.50" x2="418.50" y2="458.50" stroke="#c810c8" stroke-width="1.1"/>
<line x1="529.70" y1="458.50" x2="532.90" y2="458.50" stroke="#c810c8" stroke-width="1.1"/>
<line x1="421.70" y1="455.50" x2="418.50" y2="455.50" stroke="#c810c8" stroke-width="1.1"/>
<line x1="529.70" y1="455.50" x2="532.90" y2="455.50" stroke="#c810c8" stroke-width="1.1"/>
<line x1="421.70" y1="452.50" x2="415.90" y2="452.50" stroke="#c810c8" stroke-width="1.1"/>
<line x1="529.70" y1="452.50" x2="535.50" y2="452.50" stroke="#c810c8" stroke-width="1.1"/>
<text transform="translate(554.30,457.14) scale(1,1)" fill="#c810c8" stroke="#c810c8" stroke-width="0.95" font-size="13.8" text-anchor="end" font-weight="normal" >0</text>
<line x1="421.70" y1="449.50" x2="418.50" y2="449.50" stroke="#c810c8" stroke-width="1.1"/>
<line x1="529.70" y1="449.50" x2="532.90" y2="449.50" stroke="#c810c8" stroke-width="1.1"/>
<line x1="421.70" y1="446.50" x2="418.50" y2="446.50" stroke="#c810c8" stroke-width="1.1"/>
<line x1="529.70" y1="446.50" x2="532.90" y2="446.50" stroke="#c810c8" stroke-width="1.1"/>
<line x1="421.70" y1="443.50" x2="418.50" y2="443.50" stroke="#c810c8" stroke-width="1.1"/>
<line x1="529.70" y1="443.50" x2="532.90" y2="443.50" stroke="#c810c8" stroke-width="1.1"/>
<line x1="421.70" y1="440.50" x2="418.50" y2="440.50" stroke="#c810c8" stroke-width="1.1"/>
<line x1="529.70" y1="440.50" x2="532.90" y2="440.50" stroke="#c810c8" stroke-width="1.1"/>
<line x1="421.70" y1="437.50" x2="415.90" y2="437.50" stroke="#c810c8" stroke-width="1.1"/>
<line x1="529.70" y1="437.50" x2="535.50" y2="437.50" stroke="#c810c8" stroke-width="1.1"/>
<text transform="translate(554.30,442.47) scale(1,1)" fill="#c810c8" stroke="#c810c8" stroke-width="0.95" font-size="13.8" text-anchor="end" font-weight="normal" >5</text>
<line x1="421.70" y1="434.50" x2="418.50" y2="434.50" stroke="#c810c8" stroke-width="1.1"/>
<line x1="529.70" y1="434.50" x2="532.90" y2="434.50" stroke="#c810c8" stroke-width="1.1"/>
<line x1="421.70" y1="431.50" x2="418.50" y2="431.50" stroke="#c810c8" stroke-width="1.1"/>
<line x1="529.70" y1="431.50" x2="532.90" y2="431.50" stroke="#c810c8" stroke-width="1.1"/>
<line x1="421.70" y1="428.50" x2="418.50" y2="428.50" stroke="#c810c8" stroke-width="1.1"/>
<line x1="529.70" y1="428.50" x2="532.90" y2="428.50" stroke="#c810c8" stroke-width="1.1"/>
<line x1="421.70" y1="425.50" x2="418.50" y2="425.50" stroke="#c810c8" stroke-width="1.1"/>
<line x1="529.70" y1="425.50" x2="532.90" y2="425.50" stroke="#c810c8" stroke-width="1.1"/>
<line x1="421.70" y1="422.50" x2="415.90" y2="422.50" stroke="#c810c8" stroke-width="1.1"/>
<line x1="529.70" y1="422.50" x2="535.50" y2="422.50" stroke="#c810c8" stroke-width="1.1"/>
<text transform="translate(554.30,427.81) scale(1,1)" fill="#c810c8" stroke="#c810c8" stroke-width="0.95" font-size="13.8" text-anchor="end" font-weight="normal" >10</text>
<line x1="421.70" y1="419.50" x2="418.50" y2="419.50" stroke="#c810c8" stroke-width="1.1"/>
<line x1="529.70" y1="419.50" x2="532.90" y2="419.50" stroke="#c810c8" stroke-width="1.1"/>
<line x1="421.70" y1="416.50" x2="418.50" y2="416.50" stroke="#c810c8" stroke-width="1.1"/>
<line x1="529.70" y1="416.50" x2="532.90" y2="416.50" stroke="#c810c8" stroke-width="1.1"/>
<line x1="421.70" y1="414.50" x2="418.50" y2="414.50" stroke="#c810c8" stroke-width="1.1"/>
<line x1="529.70" y1="414.50" x2="532.90" y2="414.50" stroke="#c810c8" stroke-width="1.1"/>
<line x1="421.70" y1="411.50" x2="418.50" y2="411.50" stroke="#c810c8" stroke-width="1.1"/>
<line x1="529.70" y1="411.50" x2="532.90" y2="411.50" stroke="#c810c8" stroke-width="1.1"/>
<line x1="421.70" y1="408.50" x2="415.90" y2="408.50" stroke="#c810c8" stroke-width="1.1"/>
<line x1="529.70" y1="408.50" x2="535.50" y2="408.50" stroke="#c810c8" stroke-width="1.1"/>
<text transform="translate(554.30,413.15) scale(1,1)" fill="#c810c8" stroke="#c810c8" stroke-width="0.95" font-size="13.8" text-anchor="end" font-weight="normal" >15</text>
<line x1="421.70" y1="405.50" x2="418.50" y2="405.50" stroke="#c810c8" stroke-width="1.1"/>
<line x1="529.70" y1="405.50" x2="532.90" y2="405.50" stroke="#c810c8" stroke-width="1.1"/>
<line x1="421.70" y1="402.50" x2="418.50" y2="402.50" stroke="#c810c8" stroke-width="1.1"/>
<line x1="529.70" y1="402.50" x2="532.90" y2="402.50" stroke="#c810c8" stroke-width="1.1"/>
<line x1="421.70" y1="399.50" x2="418.50" y2="399.50" stroke="#c810c8" stroke-width="1.1"/>
<line x1="529.70" y1="399.50" x2="532.90" y2="399.50" stroke="#c810c8" stroke-width="1.1"/>
<line x1="421.70" y1="396.50" x2="418.50" y2="396.50" stroke="#c810c8" stroke-width="1.1"/>
<line x1="529.70" y1="396.50" x2="532.90" y2="396.50" stroke="#c810c8" stroke-width="1.1"/>
<line x1="421.70" y1="393.50" x2="415.90" y2="393.50" stroke="#c810c8" stroke-width="1.1"/>
<line x1="529.70" y1="393.50" x2="535.50" y2="393.50" stroke="#c810c8" stroke-width="1.1"/>
<text transform="translate(554.30,398.49) scale(1,1)" fill="#c810c8" stroke="#c810c8" stroke-width="0.95" font-size="13.8" text-anchor="end" font-weight="normal" >20</text>
<line x1="421.70" y1="390.50" x2="418.50" y2="390.50" stroke="#c810c8" stroke-width="1.1"/>
<line x1="529.70" y1="390.50" x2="532.90" y2="390.50" stroke="#c810c8" stroke-width="1.1"/>
<line x1="421.70" y1="387.50" x2="418.50" y2="387.50" stroke="#c810c8" stroke-width="1.1"/>
<line x1="529.70" y1="387.50" x2="532.90" y2="387.50" stroke="#c810c8" stroke-width="1.1"/>
<line x1="421.70" y1="384.50" x2="418.50" y2="384.50" stroke="#c810c8" stroke-width="1.1"/>
<line x1="529.70" y1="384.50" x2="532.90" y2="384.50" stroke="#c810c8" stroke-width="1.1"/>
<line x1="421.70" y1="381.50" x2="418.50" y2="381.50" stroke="#c810c8" stroke-width="1.1"/>
<line x1="529.70" y1="381.50" x2="532.90" y2="381.50" stroke="#c810c8" stroke-width="1.1"/>
<line x1="421.70" y1="378.50" x2="415.90" y2="378.50" stroke="#c810c8" stroke-width="1.1"/>
<line x1="529.70" y1="378.50" x2="535.50" y2="378.50" stroke="#c810c8" stroke-width="1.1"/>
<text transform="translate(554.30,383.82) scale(1,1)" fill="#c810c8" stroke="#c810c8" stroke-width="0.95" font-size="13.8" text-anchor="end" font-weight="normal" >25</text>
<line x1="421.70" y1="375.50" x2="418.50" y2="375.50" stroke="#c810c8" stroke-width="1.1"/>
<line x1="529.70" y1="375.50" x2="532.90" y2="375.50" stroke="#c810c8" stroke-width="1.1"/>
<line x1="421.70" y1="373.50" x2="418.50" y2="373.50" stroke="#c810c8" stroke-width="1.1"/>
<line x1="529.70" y1="373.50" x2="532.90" y2="373.50" stroke="#c810c8" stroke-width="1.1"/>
<line x1="421.70" y1="370.50" x2="418.50" y2="370.50" stroke="#c810c8" stroke-width="1.1"/>
<line x1="529.70" y1="370.50" x2="532.90" y2="370.50" stroke="#c810c8" stroke-width="1.1"/>
<line x1="421.70" y1="367.50" x2="418.50" y2="367.50" stroke="#c810c8" stroke-width="1.1"/>
<line x1="529.70" y1="367.50" x2="532.90" y2="367.50" stroke="#c810c8" stroke-width="1.1"/>
<line x1="421.70" y1="364.50" x2="415.90" y2="364.50" stroke="#c810c8" stroke-width="1.1"/>
<line x1="529.70" y1="364.50" x2="535.50" y2="364.50" stroke="#c810c8" stroke-width="1.1"/>
<text transform="translate(554.30,369.16) scale(1,1)" fill="#c810c8" stroke="#c810c8" stroke-width="0.95" font-size="13.8" text-anchor="end" font-weight="normal" >30</text>
<line x1="421.70" y1="361.50" x2="418.50" y2="361.50" stroke="#c810c8" stroke-width="1.1"/>
<line x1="529.70" y1="361.50" x2="532.90" y2="361.50" stroke="#c810c8" stroke-width="1.1"/>
<line x1="421.70" y1="358.50" x2="418.50" y2="358.50" stroke="#c810c8" stroke-width="1.1"/>
<line x1="529.70" y1="358.50" x2="532.90" y2="358.50" stroke="#c810c8" stroke-width="1.1"/>
<line x1="421.70" y1="355.50" x2="418.50" y2="355.50" stroke="#c810c8" stroke-width="1.1"/>
<line x1="529.70" y1="355.50" x2="532.90" y2="355.50" stroke="#c810c8" stroke-width="1.1"/>
<line x1="421.70" y1="352.50" x2="418.50" y2="352.50" stroke="#c810c8" stroke-width="1.1"/>
<line x1="529.70" y1="352.50" x2="532.90" y2="352.50" stroke="#c810c8" stroke-width="1.1"/>
<line x1="421.70" y1="349.50" x2="415.90" y2="349.50" stroke="#c810c8" stroke-width="1.1"/>
<line x1="529.70" y1="349.50" x2="535.50" y2="349.50" stroke="#c810c8" stroke-width="1.1"/>
<text transform="translate(554.30,354.50) scale(1,1)" fill="#c810c8" stroke="#c810c8" stroke-width="0.95" font-size="13.8" text-anchor="end" font-weight="normal" >35</text>
<text transform="translate(475.70,315.80) scale(1,1)" fill="#c810c8" stroke="#c810c8" stroke-width="0.95" font-size="13.8" text-anchor="middle" font-weight="normal" >Salinity (PSU)</text>
<g transform="translate(577.5,404) rotate(-90)">
<text transform="translate(0.00,0.00) scale(1,1)" fill="#c810c8" stroke="#c810c8" stroke-width="0.95" font-size="13.8" text-anchor="middle" font-weight="normal" >In situ Temperature (&#176;C)</text>
</g>
<path d="M474.0 673.4L471.0 672.8L468.0 672.2L465.1 671.5L462.3 670.7L459.5 669.9L456.8 669.0L454.2 668.1L451.6 667.1L449.2 666.1L446.8 665.0L444.5 663.9L442.3 662.7L440.2 661.5L438.2 660.3L436.3 659.0L434.5 657.6L432.8 656.2L431.2 654.8L429.8 653.4L428.5 651.9L427.2 650.5L426.2 648.9L425.2 647.4L424.3 645.9L423.6 644.3L423.0 642.7L422.6 641.1L422.3 639.5L422.1 637.9L422.0 636.3L422.1 634.7L422.3 633.1L422.6 631.5L423.0 629.9L423.6 628.3L424.3 626.7L425.2 625.2L426.2 623.7L427.2 622.1L428.5 620.7L429.8 619.2L431.2 617.8L432.8 616.4L434.5 615.0L436.3 613.6L438.2 612.3L440.2 611.1L442.3 609.9L444.5 608.7L446.8 607.6L449.2 606.5L451.6 605.5L454.2 604.5L456.8 603.6L459.5 602.7L462.3 601.9L465.1 601.1L468.0 600.4L471.0 599.8L474.0 599.2L474.3 599.5L474.6 599.8L475.0 600.1L475.5 600.4L476.0 600.7L476.6 601.0L477.2 601.3L477.9 601.5L478.6 601.8L479.4 602.0L480.2 602.2L481.1 602.4L482.0 602.6L482.9 602.8L483.9 603.0L484.9 603.2L485.9 603.3L486.9 603.5L488.0 603.6L489.1 603.7L490.3 603.8L491.4 603.9L492.6 604.0L493.7 604.1L494.9 604.1L496.1 604.2L497.3 604.2L498.6 604.2L499.8 604.3L501.0 604.3L502.2 604.3L503.4 604.2L504.7 604.2L505.9 604.2L507.1 604.1L508.3 604.1L509.4 604.0L510.6 603.9L511.7 603.8L512.9 603.7L514.0 603.6L515.1 603.5L516.1 603.3L517.1 603.2L518.1 603.0L519.1 602.8L520.0 602.6L520.9 602.4L521.8 602.2L522.6 602.0L523.4 601.8L524.1 601.5L524.8 601.3L525.4 601.0L526.0 600.7L526.5 600.4L527.0 600.1L527.4 599.8L527.7 599.5L528.0 599.2L531.0 599.8L534.0 600.4L536.9 601.1L539.7 601.9L542.5 602.7L545.2 603.6L547.8 604.5L550.4 605.5L552.8 606.5L555.2 607.6L557.5 608.7L559.7 609.9L561.8 611.1L563.8 612.3L565.7 613.6L567.5 615.0L569.2 616.4L570.8 617.8L572.2 619.2L573.5 620.7L574.8 622.1L575.8 623.7L576.8 625.2L577.7 626.7L578.4 628.3L579.0 629.9L579.4 631.5L579.7 633.1L579.9 634.7L580.0 636.3L579.9 637.9L579.7 639.5L579.4 641.1L579.0 642.7L578.4 644.3L577.7 645.9L576.8 647.4L575.8 648.9L574.8 650.5L573.5 651.9L572.2 653.4L570.8 654.8L569.2 656.2L567.5 657.6L565.7 659.0L563.8 660.3L561.8 661.5L559.7 662.7L557.5 663.9L555.2 665.0L552.8 666.1L550.4 667.1L547.8 668.1L545.2 669.0L542.5 669.9L539.7 670.7L536.9 671.5L534.0 672.2L531.0 672.8L528.0 673.4L527.7 673.1L527.4 672.8L527.0 672.5L526.5 672.2L526.0 671.9L525.4 671.6L524.8 671.3L524.1 671.1L523.4 670.8L522.6 670.6L521.8 670.4L520.9 670.2L520.0 670.0L519.1 669.8L518.1 669.6L517.1 669.4L516.1 669.3L515.1 669.1L514.0 669.0L512.9 668.9L511.7 668.8L510.6 668.7L509.4 668.6L508.3 668.5L507.1 668.5L505.9 668.4L504.7 668.4L503.4 668.4L502.2 668.3L501.0 668.3L499.8 668.3L498.6 668.4L497.3 668.4L496.1 668.4L494.9 668.5L493.7 668.5L492.6 668.6L491.4 668.7L490.3 668.8L489.1 668.9L488.0 669.0L486.9 669.1L485.9 669.3L484.9 669.4L483.9 669.6L482.9 669.8L482.0 670.0L481.1 670.2L480.2 670.4L479.4 670.6L478.6 670.8L477.9 671.1L477.2 671.3L476.6 671.6L476.0 671.9L475.5 672.2L475.0 672.5L474.6 672.8L474.3 673.1Z" fill="#cdeef8"/>
<path d="M438.7 612.7L437.4 613.7L436.1 614.8L436.2 615.3L436.3 615.8L436.4 616.2L436.6 616.5L436.8 616.9L437.4 616.8L438.1 616.8L438.7 616.7L439.0 617.1L439.4 617.4L439.9 617.5L440.5 617.5L439.8 618.3L439.1 619.4L438.4 620.6L437.8 621.8L437.4 622.7L437.1 623.6L436.3 625.1L436.2 626.0L436.1 626.9L436.4 627.9L436.7 628.8L436.6 629.4L437.1 630.0L437.7 629.9L438.4 629.7L439.0 629.5L439.7 629.4L439.3 630.4L438.6 631.4L438.1 632.4L437.5 633.3L436.6 634.8L435.8 635.8L435.1 636.9L434.3 638.4L434.2 639.3L434.2 640.3L434.5 641.3L434.9 642.4L435.3 643.3L435.7 644.2L436.2 645.0L436.2 646.0L436.2 646.9L436.1 647.7L436.0 648.5L436.9 649.7L437.8 650.8L437.9 652.1L438.6 653.0L439.3 653.8L440.0 655.4L440.2 656.1L440.6 656.8L440.2 657.0L439.9 657.2L439.5 657.4L439.3 657.9L438.3 657.5L436.9 656.4L435.5 655.5L434.2 654.5L432.3 653.1L431.1 651.9L430.0 650.7L428.7 649.5L427.5 648.3L426.9 647.2L426.3 646.1L425.9 645.0L425.5 643.7L425.2 642.3L424.6 641.2L424.1 640.0L423.5 638.8L422.9 637.7L422.9 636.6L422.9 635.6L423.0 634.6L423.1 633.6L422.2 633.3L422.4 632.2L422.7 631.1L423.0 630.1L423.4 629.0L423.8 628.0L424.3 626.9L424.8 625.9L425.4 624.9L426.0 623.8L426.7 622.8L427.5 621.8L428.3 620.8L429.2 619.9L430.1 618.9L431.1 617.9L432.1 617.0L433.2 616.1L434.3 615.2L435.4 614.3L436.7 613.4L437.9 612.5L438.3 612.6ZM563.8 614.3L563.6 613.6L563.4 613.0L563.7 612.7L564.1 612.5L565.3 613.4L566.6 614.3L567.7 615.2L568.8 616.1L569.9 617.0L570.9 617.9L571.9 618.9L572.8 619.9L573.7 620.8L574.5 621.8L575.3 622.8L576.0 623.8L576.6 624.9L577.2 625.9L577.7 626.9L578.2 628.0L578.6 629.0L579.0 630.1L579.3 631.1L579.6 632.2L579.8 633.3L578.9 632.2L578.3 632.1L577.8 632.1L577.2 632.5L576.6 633.0L575.8 632.9L575.2 633.2L574.6 633.4L573.7 632.4L572.9 631.7L572.1 630.9L570.9 629.4L569.9 628.5L569.0 627.2L568.8 626.0L568.4 625.1L567.9 624.2L567.0 623.3L566.3 621.8L565.6 620.3L565.1 619.1L565.1 618.6L565.0 618.0L563.9 616.8L563.0 615.6L561.9 614.2L562.5 614.2L563.2 614.2ZM454.7 604.5L456.4 603.9L458.1 603.3L458.9 603.3L456.0 604.2L455.4 604.7L455.5 604.9L455.9 604.9L456.3 605.0L456.7 605.0L457.7 604.9L459.6 604.2L460.1 604.2L460.6 604.2L462.5 603.5L462.8 603.6L463.2 603.6L463.5 603.7L464.1 603.7L463.9 603.5L463.8 603.4L463.6 603.3L463.1 603.2L464.7 602.6L467.0 601.9L468.2 601.8L469.3 601.6L469.5 601.4L469.7 601.2L468.3 601.5L466.9 601.7L465.4 602.0L463.3 602.6L462.1 603.1L459.1 603.9L457.2 604.3L457.5 604.0L459.1 603.4L460.7 602.7L460.0 602.8L459.2 602.9L459.6 602.7L461.4 602.1L463.3 601.6L465.2 601.1L466.1 601.0L467.0 600.9L467.9 600.8L469.8 600.4L471.8 600.1L472.6 600.0L473.5 599.9L474.3 599.9L474.6 599.9L474.7 599.9L474.8 600.0L474.9 600.1L475.1 600.2L475.2 600.3L475.3 600.3L475.4 600.4L475.2 600.5L475.1 600.6L475.0 600.8L475.0 600.9L474.5 601.2L474.0 601.4L473.6 601.7L472.2 602.1L472.1 602.0L471.9 601.9L471.8 601.8L471.7 601.7L470.8 601.8L470.0 602.2L469.3 602.7L469.9 602.6L470.5 602.5L471.5 602.4L472.5 602.3L474.8 601.6L475.0 601.7L475.1 601.7L475.3 601.8L475.5 601.9L475.8 601.9L476.2 602.0L476.5 602.0L476.8 602.0L477.2 602.0L477.5 602.1L477.9 602.1L478.3 602.1L478.2 602.3L478.2 602.4L478.2 602.6L479.5 602.0L479.7 602.1L479.9 602.1L480.1 602.2L479.2 602.6L478.1 603.1L479.6 602.6L480.4 602.3L480.6 602.3L480.9 602.4L481.1 602.4L481.3 602.5L481.5 602.5L481.8 602.6L482.0 602.6L482.2 602.7L482.5 602.7L482.7 602.8L483.0 602.8L483.2 602.9L483.4 602.9L483.7 603.0L483.9 603.0L484.2 603.1L484.4 603.1L484.7 603.1L485.0 603.2L485.2 603.2L485.5 603.3L485.7 603.3L486.0 603.3L486.3 603.4L486.5 603.4L486.8 603.4L487.1 603.5L487.4 603.5L487.6 603.5L487.9 603.6L488.2 603.6L488.5 603.6L488.8 603.7L489.0 603.7L489.3 603.7L489.6 603.7L489.9 603.8L490.2 603.8L490.5 603.8L490.8 603.8L491.1 603.9L491.3 603.9L491.6 603.9L491.9 603.9L492.2 604.0L492.5 604.0L492.8 604.0L493.1 604.0L493.4 604.0L493.7 604.1L494.0 604.1L494.3 604.1L494.6 604.1L494.9 604.1L495.2 604.1L495.5 604.1L495.9 604.2L496.2 604.2L496.5 604.2L496.9 604.2L497.2 604.2L497.5 604.2L497.9 604.3L498.2 604.4L498.5 604.4L498.8 604.5L499.2 604.6L499.5 604.7L499.8 604.9L500.2 605.2L500.5 605.5L500.9 605.6L501.4 605.7L501.8 605.9L501.4 606.2L501.0 606.5L500.6 606.4L500.2 606.3L499.8 606.2L499.4 606.7L498.9 607.3L498.5 607.4L498.1 607.5L497.6 607.6L497.2 607.7L496.7 608.0L496.2 608.3L495.7 608.3L495.2 608.4L494.7 608.4L493.9 609.2L493.1 610.4L492.2 611.2L491.5 611.7L490.8 612.1L490.9 611.4L491.0 610.8L491.3 610.1L491.5 609.5L492.5 608.9L493.2 608.5L493.8 608.0L494.8 607.2L494.4 607.3L493.9 607.4L493.4 607.4L493.0 607.5L491.8 608.4L491.4 608.4L491.0 608.4L490.5 608.3L490.0 608.3L489.5 608.3L489.1 608.3L488.6 608.3L487.8 608.8L487.0 609.2L486.3 609.6L485.5 610.1L485.6 610.5L485.8 611.0L485.5 611.6L485.3 612.3L484.4 613.2L483.5 613.8L482.7 614.3L481.8 614.9L481.0 615.1L480.3 615.2L479.3 615.7L477.9 616.6L477.8 617.3L477.6 618.1L477.2 618.9L476.1 619.2L476.5 618.0L476.7 616.7L475.9 616.8L475.2 617.0L475.9 616.2L474.9 616.5L473.9 616.9L473.8 617.6L474.4 617.7L475.0 617.8L474.2 618.3L473.3 618.8L473.2 619.6L473.1 620.3L473.1 621.3L472.2 622.2L471.5 623.0L470.7 623.7L469.9 624.2L469.1 624.6L467.8 625.1L467.0 625.2L466.2 625.4L465.4 625.2L464.1 626.2L464.2 627.0L464.3 627.8L464.4 628.7L464.6 629.6L464.3 630.4L463.4 631.0L462.5 631.7L462.4 630.8L461.5 630.6L460.7 629.2L460.3 630.0L459.8 631.3L460.0 632.1L460.3 632.9L461.3 634.2L461.4 635.5L461.0 635.5L460.1 634.7L459.9 633.8L459.8 632.9L459.2 632.0L459.5 630.8L459.6 629.9L459.7 629.0L459.8 628.2L459.2 627.6L458.4 627.9L458.6 627.1L458.8 626.3L458.5 625.0L458.0 624.7L457.1 624.8L456.3 625.1L455.2 625.9L454.2 626.6L453.2 627.4L452.2 628.2L451.9 629.0L451.6 629.8L451.1 630.8L450.0 631.9L449.6 630.8L449.6 629.7L449.6 628.6L449.7 627.5L449.9 626.4L450.2 625.6L450.5 624.8L449.6 624.8L449.4 624.0L449.4 622.7L448.8 622.5L448.3 622.4L447.8 622.2L447.2 622.1L446.7 622.0L446.2 621.9L446.4 621.0L445.4 621.1L445.2 620.6L444.9 620.2L445.5 619.1L445.0 619.0L444.4 619.5L444.0 620.9L443.6 621.9L443.4 622.5L444.3 622.5L446.0 621.5L445.3 622.6L445.9 623.0L446.0 623.6L444.8 624.6L444.0 625.4L442.4 626.5L441.7 626.9L440.9 627.3L439.9 627.7L439.0 628.0L438.3 628.4L437.5 628.7L436.9 628.7L437.1 627.6L437.5 626.1L437.6 624.9L437.8 623.7L438.2 622.6L438.7 621.6L439.1 620.5L439.6 619.5L440.3 618.6L439.2 619.5L439.8 618.3L440.5 617.5L441.2 617.6L442.4 616.7L444.3 615.4L445.1 614.7L444.5 614.8L443.9 614.8L443.4 614.5L442.8 614.3L443.5 613.5L444.4 612.7L445.3 612.2L445.4 612.0L444.9 611.8L444.2 612.2L444.2 612.0L443.2 612.7L442.7 613.3L442.1 613.5L441.4 614.0L441.2 613.8L442.4 612.8L443.6 611.6L444.9 610.9L445.1 610.4L445.4 609.9L446.8 608.7L446.4 608.7L445.2 609.3L444.1 610.2L444.0 610.7L443.1 611.7L443.0 611.5L441.7 612.2L440.8 612.7L442.3 611.6L442.8 611.0L443.2 610.4L443.9 609.7L444.9 608.8L444.1 609.0L443.9 609.0L445.5 608.2L447.2 607.4L448.9 606.6L450.6 605.9L452.4 605.2L454.2 604.5ZM560.3 613.7L558.6 612.7L557.1 611.7L555.6 610.6L555.8 610.4L556.1 610.2L556.3 610.0L556.6 609.9L554.4 608.6L553.0 608.2L551.6 607.7L551.7 607.5L551.8 607.3L551.3 606.8L550.0 606.0L549.2 605.4L548.0 604.8L547.8 604.5L549.6 605.2L551.4 605.9L553.1 606.6L554.8 607.4L556.5 608.2L558.1 609.0L558.1 609.4L558.0 609.7L559.1 610.3L559.7 611.2L560.8 612.0L561.1 612.2L561.8 612.8L562.2 613.3L561.6 613.6L561.9 614.0L561.1 613.9ZM541.5 602.6L538.2 601.6L536.8 601.1L538.7 601.6L540.6 602.1L542.4 602.7ZM503.2 604.2L503.6 604.2L503.9 604.2L504.2 604.2L504.5 604.2L504.9 604.2L505.2 604.2L505.5 604.2L505.8 604.2L506.1 604.2L506.5 604.1L506.8 604.1L507.2 604.2L507.5 604.2L507.9 604.3L508.2 604.3L508.6 604.4L509.0 604.4L509.2 604.3L509.5 604.2L509.8 604.1L510.0 603.9L510.4 604.0L510.7 604.0L511.1 604.0L511.4 604.0L511.8 604.0L512.3 604.2L512.9 604.4L513.5 604.5L513.8 604.5L514.2 604.4L514.5 604.4L514.9 604.4L515.2 604.3L515.5 604.3L515.8 604.3L516.1 604.2L516.4 604.2L516.8 604.1L517.2 604.1L516.1 603.3L516.4 603.3L516.7 603.2L517.7 603.6L517.8 603.5L518.0 603.3L518.2 603.2L518.8 603.4L519.5 603.5L520.9 604.3L520.8 604.4L520.6 604.6L521.6 605.4L521.6 605.7L521.7 606.0L521.7 606.3L521.7 606.6L522.9 607.8L524.4 608.5L524.9 608.5L525.3 608.5L525.8 608.5L526.6 608.7L527.4 608.8L528.2 609.0L529.7 610.1L531.0 610.5L530.3 609.7L529.5 609.1L528.6 608.4L527.7 607.5L526.3 606.7L524.8 605.9L525.2 605.8L525.5 605.6L526.4 605.8L527.3 606.0L529.0 606.9L529.5 606.9L530.0 606.9L529.0 606.1L530.7 606.8L532.5 607.5L533.9 608.0L535.3 608.4L537.1 609.2L537.4 609.7L537.7 610.3L537.2 610.3L536.8 610.3L536.3 610.4L535.9 610.4L536.0 611.0L536.1 611.6L536.3 611.3L536.6 611.0L538.0 611.9L539.0 612.1L539.9 612.4L539.8 612.8L539.7 613.1L539.5 613.5L538.7 612.9L538.3 613.0L538.1 613.6L538.8 614.5L539.1 614.6L538.7 614.9L538.3 615.3L539.0 616.6L539.9 618.0L539.5 618.7L539.4 619.9L540.0 620.7L540.6 621.4L541.1 622.2L541.5 623.1L540.8 622.7L539.8 621.7L538.7 620.8L537.8 620.7L537.1 620.7L536.4 620.8L536.8 621.4L535.8 621.2L534.8 621.3L534.4 621.7L534.0 622.1L534.2 622.8L534.5 623.6L534.9 624.9L535.6 625.7L536.3 626.6L537.0 626.9L537.7 626.8L538.3 626.7L538.3 625.4L539.0 625.3L539.7 625.1L540.0 626.4L540.0 627.2L540.0 628.0L541.2 628.0L542.5 628.4L542.6 629.3L542.8 630.3L543.5 631.4L544.6 631.4L545.1 631.3L545.9 631.7L546.5 630.6L547.1 630.2L547.8 629.9L548.2 630.5L548.7 629.8L549.7 630.6L550.6 630.6L551.5 630.6L552.3 630.4L553.4 631.6L554.2 632.3L554.9 633.0L555.6 633.0L556.2 633.0L557.3 633.8L557.8 634.7L558.1 635.7L558.1 636.3L558.9 636.9L559.7 637.3L560.4 637.7L561.0 637.8L561.6 637.9L562.2 638.0L562.7 638.6L563.3 639.1L563.9 640.1L563.6 641.6L562.2 643.0L561.1 644.4L560.7 645.4L560.2 646.4L559.4 647.4L558.5 648.4L557.3 649.4L556.6 649.6L555.9 649.8L554.8 650.3L553.8 650.8L552.7 652.2L551.2 653.2L549.7 654.1L548.4 655.0L547.7 655.1L547.1 655.1L546.8 654.7L546.1 656.0L544.9 656.8L544.0 656.9L543.2 657.0L542.1 657.9L541.1 657.9L540.8 658.6L538.9 659.8L537.7 660.1L537.3 660.9L534.8 662.1L533.5 663.0L533.2 663.6L532.8 664.2L532.1 664.3L531.5 664.4L531.5 664.0L531.6 663.6L532.4 662.4L533.3 661.6L534.1 660.8L535.1 660.1L536.2 659.4L537.1 658.6L538.1 657.8L538.8 657.1L539.5 656.3L540.1 655.6L541.0 654.9L541.8 654.2L542.7 653.4L543.2 652.7L543.8 651.9L544.3 651.2L545.0 650.3L545.6 649.5L546.3 648.6L546.7 647.8L547.0 647.0L547.4 646.2L547.0 645.4L546.4 644.6L545.8 643.8L545.6 642.7L545.4 641.6L545.2 640.5L544.5 639.5L544.5 638.6L545.1 637.9L544.7 637.5L545.0 636.3L545.3 635.8L545.7 635.2L546.2 634.2L546.0 632.8L545.6 632.3L544.9 631.6L544.6 632.4L543.9 632.0L543.2 631.8L542.3 631.1L541.9 630.5L540.9 629.5L540.1 629.3L539.2 629.0L538.4 628.5L537.6 627.9L536.5 628.2L535.8 628.0L535.1 627.8L534.0 627.4L533.0 627.0L531.9 626.2L531.7 625.3L530.9 624.5L529.4 623.4L528.4 622.5L527.2 621.6L525.8 620.6L526.1 621.4L527.5 622.6L528.2 623.3L529.0 624.1L529.7 624.7L528.3 623.9L526.7 622.6L525.7 621.4L524.6 620.2L523.8 619.5L522.8 619.3L521.7 618.3L521.0 617.6L520.1 616.6L519.5 615.4L519.1 614.7L518.7 613.9L517.9 613.0L518.2 612.6L517.4 612.3L516.6 611.9L515.9 611.4L514.4 610.4L513.4 609.6L512.7 609.2L512.0 608.7L511.5 608.6L510.9 608.4L510.4 608.3L509.8 608.2L509.3 608.1L508.9 608.0L508.4 607.9L508.1 608.1L507.7 608.3L507.2 608.6L506.5 608.9L506.2 609.3L505.8 609.7L505.3 610.0L504.8 610.4L504.2 610.5L503.7 610.7L504.2 610.3L504.7 610.0L505.1 609.6L505.4 609.2L505.5 608.8L504.9 608.9L504.3 608.9L504.1 608.3L503.6 608.2L503.2 608.0L503.0 607.3L503.5 607.1L503.9 606.8L504.0 606.5L503.5 606.5L503.1 606.5L502.6 606.2L502.2 606.0L502.7 605.9L503.1 605.7L503.5 605.5L503.0 605.2L502.5 604.9L502.9 604.6ZM527.0 601.1L527.1 601.3L527.3 601.5L527.4 601.6L527.6 601.8L527.7 602.0L528.3 602.3L528.8 602.7L529.3 603.0L529.8 603.4L531.1 604.0L532.3 604.6L533.5 605.2L533.2 605.3L532.1 605.1L531.1 604.9L529.7 604.5L528.3 604.1L526.6 603.5L524.8 602.9L522.8 601.9L523.0 601.9L523.2 601.8L523.4 601.8L523.6 601.7L523.8 601.6L523.9 601.6L524.1 601.5L524.3 601.5L524.5 601.4L524.6 601.3L524.8 601.3L525.0 601.2L525.1 601.1L525.3 601.1L525.4 601.0L525.6 600.9L525.7 600.9L525.9 600.8L526.0 600.7ZM530.2 601.9L530.6 601.8L531.0 601.8L531.0 601.6L531.0 601.5L532.3 601.7L533.3 602.1L533.6 602.4L533.9 602.6L533.3 602.6L532.8 602.6L531.0 602.2ZM548.9 606.3L548.2 606.3L548.0 606.1L546.9 605.7L546.6 605.3L545.2 604.8L544.8 604.9L543.0 604.4L540.9 603.5L541.0 603.3L541.9 603.7L542.2 603.6L544.1 604.2L545.3 604.6L547.1 605.1L548.2 605.3L549.7 606.0L549.7 606.3L549.7 606.6L549.8 607.0ZM546.1 606.0L544.8 605.6L544.1 604.9L544.7 604.9L545.7 605.4L547.4 606.1L547.8 606.5L547.2 606.6ZM476.9 620.1L477.1 619.7L477.7 619.4L478.8 618.8L479.8 618.9L480.1 618.6L480.9 618.2L482.1 617.5L482.6 616.6L483.3 616.2L483.2 617.1L482.5 617.8L482.0 618.9L481.1 619.2L480.1 619.4L479.4 619.8L478.8 619.8L477.9 619.8L477.3 620.7L476.7 620.8ZM483.3 615.5L483.9 615.3L484.5 614.4L484.9 614.7L485.3 615.0L485.3 615.4L484.2 616.0L483.4 615.7L482.8 616.1ZM485.6 612.3L486.1 611.6L486.6 610.8L487.1 610.5L486.3 611.7L486.3 612.7L485.7 612.8L485.3 613.8L484.6 614.1L485.1 613.2ZM471.6 623.6L472.0 623.7L471.5 624.5L471.1 625.2L470.9 624.8ZM470.4 629.3L470.9 629.3L471.3 629.8ZM470.2 629.2L470.4 629.3L470.0 629.4L469.8 628.9L469.8 628.2L470.3 626.9L471.1 627.0L470.7 628.2ZM470.5 632.0L471.2 632.0L471.6 631.4L471.9 631.5L472.0 632.7L471.5 633.4L470.8 633.1L470.7 632.4L469.9 632.7ZM471.1 630.6L471.9 630.0L471.8 631.0L471.0 631.2L470.6 631.2ZM467.7 631.9L469.0 630.6L469.0 631.0L467.8 632.0ZM464.2 635.4L464.9 634.9L465.6 634.7L466.3 633.9L467.1 633.0L467.6 632.7L468.4 633.7L467.9 634.1L467.8 635.0L468.3 635.8L467.6 636.0L467.6 636.8L467.1 637.3L467.0 638.3L466.3 638.4L465.6 637.9L464.9 637.9L464.2 637.6L463.8 636.6L463.7 635.5ZM458.6 633.6L459.6 634.7L460.3 635.3L461.2 636.3L461.7 637.3L462.4 638.0L462.4 639.3L461.8 639.3L460.7 638.4L459.8 637.1L459.2 635.8L458.3 634.6L457.6 633.4ZM462.7 639.4L463.7 639.7L464.8 639.6L465.6 639.9L466.5 640.3L466.5 640.8L465.7 640.7L464.9 640.6L464.2 640.5L463.5 640.3L462.8 640.1L462.2 639.8ZM467.7 640.5L468.6 640.6L469.5 640.6L470.5 640.5L470.4 640.7L469.1 640.8L468.4 640.9L467.7 640.9L466.9 640.8L466.8 640.5ZM471.4 640.8L472.3 640.5L472.1 640.9L471.3 641.5L470.8 641.5ZM468.6 638.1L468.5 637.3L468.7 636.3L468.9 635.8L469.7 635.7L470.4 635.6L471.2 635.5L471.1 635.8L469.7 636.0L468.9 636.1L469.3 636.7L470.3 636.8L469.4 637.3L470.0 638.0L470.1 638.8L469.1 637.9L469.1 639.1L468.7 639.1ZM472.6 636.0L472.8 636.6L472.5 636.3L472.3 635.4ZM473.9 637.9L473.5 638.1L472.6 638.0L472.6 637.8ZM474.7 636.5L475.4 636.7L475.5 637.5L475.9 638.0L476.8 637.3L477.5 637.2L478.7 637.6L479.6 637.9L480.4 638.2L481.1 638.9L482.1 639.4L481.7 639.7L482.2 640.3L483.5 641.4L483.0 641.4L481.8 641.0L481.3 640.3L480.5 640.1L479.9 640.8L478.9 640.8L477.9 640.3L477.5 640.4L477.8 639.8L477.4 639.0L476.2 638.5L475.2 638.3L474.9 638.3L474.5 637.7L475.2 637.6L474.7 637.4L474.0 636.7ZM483.1 639.0L484.0 638.4L484.2 638.8L483.6 639.3L482.6 639.4L482.4 639.1ZM468.3 647.3L469.0 646.8L469.9 646.4L470.7 646.2L471.1 645.5L470.9 644.9L471.6 644.5L472.1 643.6L472.7 643.3L473.4 643.7L474.0 643.8L474.1 643.0L474.4 642.5L475.2 642.1L476.3 642.3L477.1 642.4L476.9 643.0L476.9 643.8L477.9 644.3L478.8 645.0L479.4 645.0L479.6 644.0L479.5 642.7L479.7 641.7L480.3 642.5L480.7 643.4L481.3 643.7L481.8 644.9L482.1 645.7L483.2 646.3L483.8 647.2L484.7 647.9L485.7 648.8L486.0 649.5L486.3 650.2L486.2 651.4L485.9 652.3L485.9 653.3L485.9 654.4L485.2 654.7L484.8 655.3L484.1 654.9L483.6 655.2L483.0 655.0L482.3 654.8L481.5 653.9L481.0 653.7L480.5 653.5L480.2 652.3L479.7 653.0L479.6 653.4L478.6 652.4L477.3 651.9L476.3 652.0L475.8 652.2L475.2 652.4L474.6 653.2L473.9 653.2L473.2 653.3L472.7 653.8L472.0 653.7L471.3 653.6L471.0 652.4L470.2 651.4L469.3 650.5L468.5 649.5L468.9 649.5L468.4 648.5L467.9 647.5ZM485.2 656.2L485.9 656.1L486.2 657.0L485.7 657.3L485.0 656.8L484.5 656.0ZM495.7 653.4L496.3 653.8L496.5 654.3L497.5 654.4L497.2 655.1L497.0 655.2L496.9 655.8L496.4 656.2L496.2 656.0L496.2 655.4L495.7 655.1L496.0 654.5L495.8 653.8L495.1 653.1L495.0 652.8ZM496.0 656.1L495.6 656.8L495.6 657.2L495.1 657.5L495.0 658.2L494.4 658.5L493.9 658.3L493.4 658.1L493.9 657.3L494.7 656.7L495.0 656.2L495.4 655.7ZM440.2 645.4L440.5 646.5L440.8 647.6L441.2 648.6L441.7 649.7L442.2 650.9L441.9 651.2L441.2 651.0L440.4 650.2L439.7 649.3L439.3 648.1L438.8 647.3L438.2 646.4L438.7 645.7L438.9 644.3L439.0 643.4L439.6 644.4ZM451.7 631.7L451.8 632.5L451.4 633.0L450.9 633.0L451.0 631.9L451.3 631.0ZM465.9 626.0L466.3 626.3L465.9 626.8L465.4 626.9L465.2 626.4ZM541.0 624.3L542.0 624.2L543.0 624.6L543.9 624.9L545.4 625.6L544.7 625.7L544.0 625.8L543.6 625.4L542.3 624.9L541.6 624.6L541.0 624.8L540.5 624.9ZM546.0 625.7L547.2 625.7L548.1 626.3L547.3 626.5L547.0 626.8L545.7 626.5ZM544.9 626.7L544.5 626.9L544.0 626.6ZM549.4 626.4L549.1 626.6L548.7 626.4ZM537.7 610.0L537.3 609.5L538.5 610.1L539.7 610.4L540.9 611.0L541.5 611.5L541.0 611.5L540.4 611.5L539.8 611.4L539.1 611.3ZM526.7 604.9L527.4 605.5L526.7 605.4L526.1 605.3L525.5 605.3L524.6 605.0L523.7 604.8L523.3 604.8L522.9 604.8L522.8 604.5L522.7 604.2L521.4 603.4L520.2 603.1L519.1 602.8L519.4 602.8L519.6 602.7L519.9 602.7L520.1 602.6L520.4 602.6L520.9 602.7L521.8 602.9L522.7 603.1L523.6 603.4L524.5 603.6L525.7 604.2ZM521.2 604.7L522.1 605.0L523.1 605.3L523.3 605.8L522.4 605.6L521.6 605.4L521.4 605.1ZM517.1 612.2L518.3 612.9L517.8 612.9L516.5 612.3L516.1 612.0ZM506.7 609.2L507.0 609.1L507.2 609.4L506.5 609.4ZM515.5 603.9L515.2 603.9L515.0 604.0L514.7 604.0L514.4 604.1L514.0 604.0L513.6 604.0L513.2 604.0L512.7 603.9L512.4 603.7L512.6 603.7L512.9 603.7L513.2 603.7L513.5 603.6L513.8 603.6L514.1 603.6L514.3 603.5L514.6 603.5ZM474.1 673.3L474.0 673.3L474.0 673.4L473.8 673.4L473.9 673.3ZM474.2 671.9L474.5 671.9L474.7 671.8L475.0 671.8L475.2 671.7L475.5 671.7L475.2 671.5L474.9 671.2L474.5 671.0L474.3 670.8L474.0 670.6L473.8 670.3L473.6 670.1L473.4 669.9L473.8 669.9L474.3 669.9L474.8 669.9L475.2 669.9L475.6 669.9L476.0 669.9L476.4 669.9L476.8 669.9L477.2 669.9L477.6 669.9L478.2 669.9L478.8 670.0L479.4 670.1L480.0 670.1L479.7 669.8L479.4 669.5L479.1 669.2L479.2 669.1L479.3 669.0L479.4 668.8L479.5 668.7L479.7 668.6L480.0 668.5L480.3 668.5L480.6 668.4L480.9 668.4L481.1 668.2L481.3 668.1L481.5 668.0L481.8 667.8L482.2 667.8L482.5 667.8L482.9 667.8L483.3 667.8L483.7 667.8L484.1 667.8L484.5 667.8L485.0 667.9L485.4 667.9L485.8 667.9L486.1 667.8L486.3 667.7L486.6 667.6L486.9 667.5L487.2 667.4L487.5 667.4L487.9 667.3L488.2 667.3L488.5 667.3L489.0 667.3L489.4 667.3L489.9 667.3L490.3 667.4L490.7 667.4L491.1 667.5L491.5 667.6L491.9 667.6L492.4 667.7L492.8 667.7L493.3 667.8L493.7 667.9L494.2 668.0L494.6 668.2L495.1 668.3L495.5 668.5L495.2 668.5L494.9 668.5L494.6 668.5L494.3 668.5L494.0 668.5L493.7 668.5L493.4 668.6L493.1 668.6L492.9 668.6L492.6 668.6L492.3 668.6L492.0 668.7L491.7 668.7L491.4 668.7L491.1 668.7L490.8 668.7L490.5 668.8L490.2 668.8L490.0 668.8L489.7 668.8L489.4 668.9L489.1 668.9L488.8 668.9L488.6 669.0L488.3 669.0L488.0 669.0L487.7 669.1L487.5 669.1L487.2 669.1L486.9 669.2L486.6 669.2L486.4 669.2L486.1 669.3L485.9 669.3L485.6 669.3L485.3 669.4L485.1 669.4L484.8 669.4L484.6 669.5L484.3 669.5L484.1 669.6L483.8 669.6L483.6 669.7L483.3 669.7L483.1 669.7L482.8 669.8L482.6 669.8L482.4 669.9L482.1 669.9L481.9 670.0L481.7 670.0L481.5 670.1L481.2 670.1L481.0 670.2L480.8 670.2L480.6 670.3L480.4 670.3L480.2 670.4L479.9 670.4L479.7 670.5L479.5 670.6L479.3 670.6L479.1 670.7L478.9 670.7L478.7 670.8L478.6 670.8L478.4 670.9L478.2 671.0L478.0 671.0L477.8 671.1L477.7 671.2L477.5 671.2L477.3 671.3L477.1 671.3L477.0 671.4L476.8 671.5L476.7 671.5L476.5 671.6L476.4 671.7L476.2 671.8L476.1 671.8L475.9 671.9L475.8 672.0L475.7 672.0L475.6 672.1L475.4 672.2L475.3 672.3L475.2 672.3L475.1 672.4L475.0 672.5L474.9 672.6L474.8 672.6L474.7 672.7L474.6 672.6L474.5 672.5L474.4 672.3L474.3 672.2L474.3 672.1ZM522.8 669.2L523.9 668.9L525.0 668.6L526.1 668.3L526.8 668.2L527.4 668.1L528.1 668.0L526.3 668.6L525.2 668.9L524.0 669.2L522.8 669.8L521.5 670.3L521.2 670.2L521.0 670.2L520.7 670.1L520.5 670.1L520.2 670.0L521.5 669.6ZM528.3 672.9L528.3 673.0L528.3 673.1L528.3 673.3L528.2 673.4L528.0 673.4L527.9 673.3L527.9 673.2L527.8 673.1L527.7 673.0L527.6 672.9L527.5 672.9L527.9 672.9ZM491.1 646.5L491.8 647.1L491.4 647.1L490.6 646.5L490.3 646.1Z" fill="#ffcccc" stroke="#100808" stroke-width="0.7" stroke-linejoin="round"/>
<path d="M518.3 612.7L522.7 612.4L527.5 612.0L529.7 612.3L532.1 612.9L533.3 613.3L534.6 614.6L535.4 614.2L535.9 613.7L535.9 613.2L537.0 613.1L536.3 611.9L537.0 612.0L537.7 612.6L538.4 612.9M524.6 620.2L525.6 620.2L527.4 620.7L528.6 620.7L529.1 620.4L530.5 621.4L531.2 621.3L531.7 621.3L533.1 622.4L534.4 623.1M507.5 604.2L509.9 608.1L511.2 608.6L511.5 608.2L512.4 608.7L514.1 609.7M538.6 628.8L538.9 628.0L538.9 627.1L539.4 627.1L539.7 626.7M553.7 633.5L553.1 634.0L552.1 635.2L550.8 635.6L549.5 635.8L549.4 638.6L547.7 640.3L548.8 641.4L548.8 642.2L551.0 641.8L551.9 643.4L552.7 643.7L552.8 645.7L552.2 647.3L552.3 648.6L552.2 649.6L551.7 650.4L550.2 651.8L548.7 652.7L548.7 654.7M547.9 645.7L547.7 647.6L547.6 648.7L546.4 649.7L544.3 652.2L543.0 653.7L541.2 655.7L539.5 657.1L536.9 659.5L533.9 661.8L533.5 663.0M547.9 645.7L548.5 644.7L549.0 643.1L548.8 641.4M544.9 638.1L545.4 639.0L546.2 637.9L547.1 636.8L547.2 636.3L549.4 638.6M546.2 635.9L547.2 636.3L548.6 635.2L549.5 635.8M547.9 630.1L548.0 631.5L548.3 632.3L549.2 632.5L550.4 632.9L550.8 635.6M548.7 652.7L547.3 654.2L546.8 654.7M549.6 648.4L552.0 647.3L551.6 648.4L551.7 650.4M549.6 648.4L548.7 648.2L547.6 648.7M467.7 611.3L469.7 610.8L472.6 610.4L473.0 611.2L474.3 611.5L475.6 611.9L477.1 611.8L477.5 612.1L479.6 610.6L480.8 610.4L480.7 612.0L481.3 613.0L482.8 612.9L481.1 614.4L479.9 615.3L479.5 615.6M468.0 611.3L467.0 613.1L467.5 614.4L469.0 614.8L470.2 615.1L472.2 615.0L473.6 614.2L475.5 613.6L476.9 613.2L476.3 612.7L477.5 612.1M457.2 616.5L457.9 617.4L456.7 619.2L456.7 620.3L457.4 621.0L458.7 621.5L460.3 621.6L461.9 621.1L462.4 621.6M462.4 621.6L461.8 623.8L461.6 624.8L462.3 625.1L463.1 624.6L464.4 624.4L464.9 625.0L465.3 625.2M457.2 616.5L455.9 618.0L455.5 618.9L454.1 620.1L452.2 621.0L451.1 622.0L450.9 622.8L449.6 623.2M449.2 613.8L447.7 615.1L446.9 616.2L445.9 617.3L445.3 618.4L445.0 619.0M452.0 616.7L450.7 618.0L449.4 619.6L448.5 621.5L447.6 622.2M458.6 608.5L459.9 608.5L460.5 608.9L461.7 609.2L464.1 608.2L465.8 607.9L467.1 607.9L467.2 608.6L467.8 608.9L466.9 610.1L467.7 610.5L467.7 611.3M450.6 615.3L452.3 615.1L452.0 616.7L453.7 616.3L454.6 616.0L455.6 616.2L456.2 616.4L457.2 616.5M454.6 616.0L454.9 614.8L454.7 613.6L453.8 613.5L456.3 611.7L457.3 611.6M457.2 616.5L458.3 615.2L460.2 614.7L461.7 614.3L463.4 612.9L464.3 612.8L465.5 612.0L467.0 611.5L467.7 611.3M458.5 625.0L459.7 623.7L460.7 623.0L462.2 622.0L462.4 621.6M459.5 630.8L460.1 629.0L460.3 627.7L460.3 626.6L461.2 625.9L461.7 625.7L462.3 625.1M461.7 625.7L462.3 626.4L463.0 626.8L463.1 628.0L463.1 628.8L464.0 628.8L463.4 630.1L462.8 630.6L462.2 630.9M461.5 629.9L461.6 629.0L463.1 628.8M463.1 624.6L463.4 625.7L463.5 626.6L464.0 627.5M476.5 616.6L477.7 615.8L478.3 615.9L479.5 615.6M476.8 617.6L477.7 617.3M440.3 618.6L441.9 617.3L442.7 616.7L443.2 617.3L445.1 616.3L447.2 614.9L449.2 613.8M443.2 617.3L442.1 617.6L441.3 618.4L441.7 619.2L443.4 619.3L443.9 619.4L444.0 619.8L444.3 619.8M443.4 619.3L443.9 619.4M441.9 625.3L443.3 624.8L444.2 623.7L444.3 623.3L443.4 623.0L443.5 622.3M441.9 625.3L440.1 625.6L438.2 625.9L437.6 626.5M441.9 625.3L441.6 626.7M445.1 614.7L445.3 614.8L446.3 614.9L447.2 614.9M449.9 612.6L450.1 612.9L449.6 613.7L449.2 613.8M451.0 611.5L451.6 611.8L451.3 612.7L452.0 612.9M438.5 616.9L433.4 622.5L432.5 623.7L432.0 623.9L430.6 626.3L430.2 626.4L429.1 627.9L428.9 629.2L429.0 630.7L429.6 633.1L430.7 634.1L432.0 633.7L432.8 633.5M433.4 622.5L435.5 622.8L437.4 623.0M434.7 627.4L435.4 627.2L436.1 627.5L436.5 628.8M431.8 636.9L433.1 638.1L434.0 639.2M432.8 633.5L433.5 634.1L434.7 633.9L435.0 633.9L435.5 633.3L436.3 633.3L437.9 631.6L436.4 630.9L436.3 629.7M434.6 637.3L434.6 634.5M430.5 636.9L430.4 639.1L431.3 641.4L430.6 642.1L431.3 644.2L432.3 642.2L433.1 643.4L433.4 643.4L434.4 643.4L435.3 642.7M430.7 647.8L431.8 647.6L432.5 647.6L434.9 650.0L435.7 650.1L438.0 652.6M431.8 650.4L433.3 652.2L435.2 654.2L435.8 654.2L434.3 652.2L435.4 652.4L434.8 651.0L434.9 650.0M431.8 650.4L432.1 650.3L430.5 648.0L431.1 647.5L431.8 647.6M429.3 643.3L429.8 644.6L429.1 644.7L430.1 646.7L431.1 647.5M431.3 644.2L432.9 646.0L434.1 646.6L434.0 645.2L435.3 646.7L434.9 646.8L435.2 648.5L435.6 649.4L435.7 650.1M463.5 603.7L461.1 604.5L459.9 605.0L459.1 605.1L456.9 605.6L454.4 606.7L453.5 607.2L451.8 607.7L451.2 608.0L451.9 608.3L449.8 609.8L449.9 610.0M459.9 605.0L459.1 605.7L457.3 606.6L457.1 607.1L455.6 608.0L455.7 608.4L455.9 608.7L454.3 609.5L453.4 609.7M444.8 611.6L445.6 611.5L446.2 611.5L446.8 611.5M446.2 611.5L445.9 611.8L445.4 612.0M451.2 608.0L450.4 608.4L449.0 609.0L448.7 608.9L447.9 609.8L445.8 610.9L444.3 611.5L443.1 612.1M474.1 600.6L473.1 600.8L472.7 601.1L469.3 602.0L467.4 602.7L464.3 603.4M473.5 600.2L472.4 600.7L469.9 601.3M558.1 636.3L557.3 637.1L556.0 637.5L554.7 638.1L553.8 638.1L552.5 638.4L551.7 637.9L550.3 638.1L549.4 638.6L547.9 638.7L547.1 639.5L546.4 641.1M553.8 638.1L553.0 637.1L551.9 636.6L550.8 635.6M554.3 638.1L553.3 639.3L551.9 641.0L551.0 641.8L550.0 643.4M556.0 637.5L555.1 639.6L554.2 641.3L554.0 643.0M558.5 637.2L558.1 639.4L558.1 641.4L557.1 643.7M553.0 631.6L552.0 631.9L550.7 632.2L550.5 633.6L550.4 634.7M546.8 654.7L547.1 653.6L548.5 652.0L549.5 651.2L550.5 650.2L551.6 648.4L552.5 646.8L552.9 645.4M549.5 651.2L550.5 651.3L551.7 650.4L552.4 649.6L554.0 648.3L554.8 647.5L555.6 647.6M562.8 642.5L562.3 641.8L561.3 641.8L560.1 642.6L559.1 644.3L558.0 646.0M536.8 621.3L535.5 620.5L535.0 619.5L534.8 618.5L534.4 617.5L533.3 616.6L532.3 615.9L532.1 615.3L531.1 614.5L529.9 613.8L528.6 612.9M533.3 616.6L532.8 616.8L531.6 616.6L530.3 615.6L529.4 614.8L527.6 614.3L526.6 613.2L525.0 612.7L523.8 612.9L522.7 613.1M534.4 617.5L534.7 617.0L535.2 616.7L535.3 616.3L536.3 616.6L536.1 615.5M535.0 619.5L533.7 619.3L532.4 619.1L531.0 618.9M534.6 619.0L533.1 618.4L532.1 618.0L531.0 617.7L529.6 617.3L528.2 617.2M534.4 623.1L533.1 622.4L531.7 621.3L530.5 621.4L529.1 620.4L528.2 618.9L527.9 617.6M525.8 620.6L525.4 619.7L524.9 618.5L525.9 618.0L526.2 617.5L526.1 616.8L526.7 616.5M518.7 613.9L520.0 614.1L520.6 614.0L520.2 612.8L520.1 612.6L519.4 611.7M520.6 614.0L521.2 613.7L521.9 614.8L523.4 615.4L524.1 614.9M509.2 604.4L509.8 605.0L510.9 605.4L511.8 605.9L514.0 607.1L515.4 607.3L516.0 607.4M517.5 607.3L518.4 608.2L519.0 609.0L519.4 609.9M503.4 607.2L504.5 607.5L504.7 606.4L505.8 606.1L506.9 605.9L507.8 605.7L508.8 606.2L509.4 606.5L510.4 607.1L511.3 607.7M524.3 608.5L524.1 608.7L524.7 609.6L524.5 610.0M525.8 611.5L525.5 611.7L524.4 611.6L522.6 610.9L521.0 610.4L519.9 610.5M536.3 610.7L535.9 611.3L536.1 612.2L536.1 612.9L535.9 613.7M531.1 610.4L531.9 611.3L533.0 612.0M529.1 607.0L530.8 608.1L532.5 608.6M476.4 603.3L474.6 603.7L472.2 604.6L471.5 605.4L471.4 605.6L472.5 605.6L472.8 605.9L471.8 606.8L471.0 608.1L469.6 608.9L468.9 609.9M471.5 605.4L469.2 606.6L468.9 607.1L468.1 608.1L467.4 608.8L466.8 609.5L466.7 610.2L466.4 611.4M481.6 602.9L479.2 604.2L476.6 605.8L474.6 607.3L473.5 608.4L472.2 609.3L471.4 610.4M474.8 607.6L475.8 607.7L477.0 607.9L476.2 608.8L474.8 609.6L474.5 610.4M479.2 604.3L479.1 605.0L479.2 605.7L479.4 606.2L479.7 606.8L479.9 607.0M489.0 603.7L487.0 604.8L486.3 605.9L486.4 606.5L486.0 606.9L484.5 607.5L482.7 607.6L481.5 607.6L480.4 607.8L478.7 608.2L477.0 608.9L476.4 609.8M486.4 606.5L487.1 606.8L486.8 607.7L485.5 608.5L484.4 609.1M486.3 605.9L484.9 605.9L483.7 606.3L482.7 606.4L482.0 606.3M495.6 604.4L494.8 604.7L493.2 605.5L492.3 606.5L491.3 607.1M491.4 604.7L490.1 605.7L490.1 606.4L490.5 606.8M498.5 606.4L497.8 606.3L496.9 606.2L496.6 605.6M486.1 611.0L485.5 611.4L484.1 612.0L482.8 612.9M480.7 612.0L481.5 611.4L481.2 610.9L480.8 610.4M481.3 613.0L479.8 613.6L478.8 614.1L478.4 614.2L479.0 613.1M473.8 617.5L472.9 617.8L471.1 618.7L469.7 618.7L470.5 617.4L471.6 616.3L470.8 615.8L469.9 616.4L469.0 617.1L467.6 618.0L467.2 618.0L466.1 618.4M473.2 620.6L472.2 620.3L471.2 620.8L470.1 621.3L469.2 621.4L468.8 620.7L467.9 620.6L466.6 621.2L465.7 621.6L465.2 621.7L463.9 622.6L463.3 622.5L463.4 621.3L463.7 619.8L463.5 618.7M467.9 624.8L467.2 624.3L466.3 624.5L465.3 624.2L464.7 623.7M463.0 631.1L462.5 630.3L462.7 629.6L463.3 628.8L463.1 628.0L463.2 627.2L462.1 626.9L462.0 625.9L461.7 625.7L462.0 624.9L462.3 623.3L462.9 621.8L463.1 620.5L463.1 619.2M459.7 627.4L460.3 626.6L461.2 624.8L462.2 623.3L462.9 621.8M459.0 627.6L459.3 626.3L460.3 624.8L461.3 623.5L462.2 622.3M460.7 629.2L460.9 628.1L460.9 627.2L461.0 626.4M457.9 624.4L457.9 623.6L457.7 622.9L456.4 622.6L455.6 622.6L455.1 622.1L455.4 620.4M455.6 622.6L455.0 621.9L454.8 621.2L454.9 620.7M458.3 623.6L458.8 622.6L459.8 622.5L461.4 621.8L461.9 621.2L460.7 621.0L459.1 620.9L458.0 620.8L457.3 620.1M453.3 627.4L452.6 626.8L452.1 626.0L451.2 625.6L450.7 625.3M452.7 627.6L451.9 627.5L451.1 627.6L450.4 627.1L450.1 626.7M456.0 625.4L455.1 625.0L454.4 624.7M450.8 624.4L451.7 624.3L453.1 624.1L454.4 624.0M449.4 623.0L450.4 622.0L451.6 620.9L452.7 620.2L453.4 619.4L454.6 618.4L455.2 617.9L456.4 617.5L456.9 617.6L457.0 618.4L457.1 619.2M453.4 619.4L453.9 619.8L454.8 619.6L455.6 619.4L455.9 619.5M445.0 619.0L445.2 618.4L445.4 617.7L445.5 617.0L445.9 616.4L445.7 616.0L445.3 615.9L445.4 615.3L446.6 614.2L447.6 613.8M445.2 618.4L445.3 618.0L445.5 617.2L446.4 616.1L446.9 615.3L447.0 614.6L447.4 614.1M456.3 612.6L456.2 613.2L455.2 614.5L454.7 615.6L455.0 616.1L455.6 616.2L456.3 616.4M458.4 611.5L458.5 612.4L458.3 613.3L457.6 614.3L458.0 614.6L458.9 614.5M454.9 610.8L455.9 609.8L456.2 609.3L457.5 608.8L458.8 608.2L460.1 607.8L461.3 607.5L462.9 606.6L462.8 606.2L462.7 606.0L463.1 605.4L463.1 605.1L461.9 605.2L461.4 605.0M463.0 606.6L463.5 606.8L464.7 606.8L466.6 606.0L468.3 605.2M453.7 609.7L454.2 609.7L455.0 609.5L455.9 609.3L456.7 608.6L456.7 608.3L457.3 607.7L459.0 606.8M451.3 609.5L451.8 609.5L452.7 609.2L453.4 609.1L454.2 608.6L454.1 608.2L454.7 607.6L456.6 606.7L458.1 606.1L459.4 605.8M449.9 610.0L449.6 609.9L448.2 610.4L447.5 610.4L447.1 610.2L447.9 609.8L447.8 609.5L448.7 608.9M470.4 602.6L468.9 603.3L468.3 603.8L467.6 604.3L466.5 604.6M475.9 602.1L474.5 602.4L473.7 602.8L473.6 603.1L471.7 603.9L470.3 604.4M440.3 617.3L439.5 618.1L438.2 619.2L437.8 620.5L437.0 621.7L435.6 622.8L434.2 624.2L434.9 624.6L434.7 625.6L433.6 626.7L433.0 628.2L432.0 630.1L431.3 630.7L431.1 632.2L431.1 633.5L430.9 634.4L431.3 635.1L431.5 636.0M433.6 626.7L433.6 628.0L433.4 629.5L434.0 629.9L434.4 629.2M434.7 625.6L435.0 626.5L435.0 627.8L434.8 628.7M428.4 636.0L428.9 637.6L429.1 639.5L429.8 641.4L430.0 642.6M428.4 636.0L427.6 635.0L426.6 635.3M426.8 633.7L427.5 633.6L428.7 633.1L429.7 633.6M436.0 647.7L435.1 647.0L434.1 646.2L433.1 646.1L432.5 646.6L432.4 647.5L431.8 647.6L430.7 646.8L429.8 645.3L429.2 644.0M437.4 651.5L436.6 651.0L435.6 650.1L434.8 650.1L434.8 651.0L435.5 651.8M435.2 654.3L436.0 654.3L436.7 654.3L438.2 655.1L438.8 654.9M434.3 637.8L434.0 636.9L433.6 636.3L433.2 636.6M435.1 636.5L435.2 635.1L435.1 633.9L434.6 633.0L434.5 631.7M436.4 634.9L436.2 634.2L436.5 633.3L436.1 632.4L435.4 631.8M481.3 653.7L481.4 653.0L482.2 653.0L483.0 653.5L483.7 653.8L484.5 653.8L485.0 654.1M482.2 653.0L482.3 652.2L482.8 651.7L483.2 651.1L483.8 651.0L484.4 650.5M483.0 653.5L483.7 653.1L484.3 653.1L485.0 653.2M479.2 650.4L479.5 649.6L480.3 649.1L480.8 648.6L481.1 648.1M479.9 640.8L479.1 640.0L478.8 639.3L479.0 638.8M480.2 638.3L479.7 638.5L479.3 638.4L478.8 638.5M478.7 637.6L478.9 640.8M477.4 637.2L477.3 637.8L477.8 638.0L477.6 638.3M465.8 637.9L465.8 637.1L466.0 636.3M467.6 636.6L466.9 636.3L466.5 636.0L466.3 635.6M463.8 636.3L464.6 636.3L465.3 635.8M464.0 635.3L464.6 635.8L465.6 635.6L466.3 635.6L466.7 634.8L466.9 634.1M461.2 636.8L460.7 637.2L460.3 636.8L460.1 636.3M461.8 637.6L461.5 637.9L461.0 638.1" fill="none" stroke="#1c1010" stroke-width="0.4" stroke-linejoin="round" opacity="0.9"/>
<path d="M519.9 610.7L519.5 610.7M521.7 611.5L521.2 611.6L521.1 612.0M516.0 604.9L516.2 604.8M527.0 611.0L526.9 611.3L527.3 611.7L527.2 611.6M521.6 606.8L521.2 606.7L521.4 607.1M518.4 605.1L518.5 605.1L518.0 604.9L518.5 605.1M522.1 607.0L522.5 607.2L523.4 607.5M516.7 605.5L517.0 605.5L517.9 605.9M518.7 604.9L518.8 605.1L518.4 604.8M514.5 606.2L514.0 606.0M529.9 608.4L530.4 608.5L531.0 608.6L531.1 608.6M516.4 609.7L516.0 609.3L516.3 609.6M520.8 609.5L520.7 609.1L520.6 609.2M514.4 604.6L514.5 604.9L514.6 605.1M519.6 606.7L519.9 607.0L519.8 606.9M520.0 611.0L519.6 610.6M526.5 604.7L526.6 604.9L526.8 604.9L525.7 604.6M523.1 610.9L522.7 610.8M527.7 610.8L528.2 611.2L528.1 611.4M521.1 610.9L521.7 610.9L522.0 611.3L521.7 611.5M513.3 605.2L513.6 605.4L514.0 605.5M519.1 603.7L518.8 603.3L519.3 603.5M520.9 610.5L520.6 610.2L520.7 610.5M519.7 602.9M522.7 608.6L522.8 608.3M523.2 610.1L522.7 609.7L522.7 609.2M520.4 610.1L520.5 610.2L520.1 609.8M528.3 611.5L529.0 611.8L528.7 611.4M523.4 610.2L522.6 609.8L522.8 609.8M510.2 604.0M531.3 609.6L531.6 609.8L532.2 610.1L531.1 609.7M530.0 606.8L530.7 607.0L530.9 607.2M514.8 607.2L514.5 606.8L514.0 606.7M526.0 605.1L525.5 604.7L525.9 605.0L525.2 604.7M530.6 609.7L530.3 609.5L530.5 609.6M520.6 606.9L521.5 607.3M517.3 611.9L517.2 611.8M518.6 606.6L518.8 606.6L518.8 606.6M526.1 604.6L525.6 604.2L525.5 604.3M520.1 608.5L520.0 608.8L519.5 608.6M512.2 606.2L511.6 605.9L512.2 606.1M530.9 607.0L530.4 606.9L529.8 606.7L530.3 606.8M520.6 608.8L521.2 609.2M522.6 607.8L522.5 607.8M510.0 604.6L510.6 605.0L510.8 605.4M529.2 608.6L529.0 608.3L528.5 607.8M518.6 607.3L519.2 607.7L518.6 607.5L519.0 607.9M531.9 610.2L531.1 609.9L531.2 610.1M518.7 611.0L518.8 610.5L518.8 610.9M527.0 605.2L526.9 605.2L527.0 605.4M509.4 606.2L509.5 606.5L509.4 606.3M517.3 604.2L516.7 603.8L516.2 603.5M520.3 608.9L521.0 609.3M518.6 604.1L519.0 604.5L518.7 604.1L519.1 604.3M517.0 609.6L516.8 609.9L516.5 610.0L515.9 609.6M520.7 611.8L520.7 612.1L520.8 612.5M515.0 606.5L515.5 607.0L515.6 607.4M522.6 611.6L522.3 611.5M509.3 604.3L509.2 604.2L509.5 604.2M512.8 603.8L512.6 603.7M517.4 605.9L517.4 605.6L517.1 605.4M509.6 606.6L509.6 607.0L509.4 606.6M518.7 608.1L518.7 607.9M508.8 605.7L509.2 606.1M521.9 608.4L522.5 608.6L521.9 608.5L521.6 608.4M516.1 606.5L516.5 606.8L516.5 606.8M535.5 609.5L535.9 609.7L536.0 609.7M523.7 610.8L523.9 611.2L524.1 611.4M511.9 608.0L512.4 608.1L512.4 607.7L512.3 608.1M517.0 606.8L517.1 606.6L516.5 606.3M525.0 611.5L525.2 611.3M516.7 605.7L516.8 605.9L517.6 606.3L517.4 606.0M510.1 604.6L510.5 604.7M519.2 608.6L519.1 608.6M519.4 611.7L518.8 611.6M527.4 610.1L527.5 610.3L527.5 610.0M523.5 611.6L523.5 611.2L523.3 610.9L522.7 610.7M517.3 605.4L516.8 605.1L517.2 605.4M521.1 609.4L520.8 609.0L520.4 608.8M516.3 607.3L515.8 607.2L515.5 607.2L515.7 607.2M521.5 608.9L521.4 608.9L521.5 609.2L521.7 609.4M515.3 605.1L515.2 604.9L515.3 605.0M522.6 608.4L522.8 608.4L523.0 608.5M509.8 604.8L509.8 604.9L509.8 604.5L510.4 605.0M509.8 606.4L510.2 606.4L509.6 606.0L509.9 606.0M520.7 607.9L520.8 608.3M535.3 609.4L534.6 609.2L534.7 609.7L535.4 610.1M516.9 605.4L516.6 605.4M514.3 607.1L514.0 606.6M517.6 609.4L517.8 609.6L517.2 609.2M510.7 608.2L510.5 608.4L510.5 608.6L510.4 608.4M522.8 611.9L523.1 611.9L522.4 611.4M514.2 605.2L514.4 605.4L515.1 605.7M534.7 610.1L535.7 610.5L535.1 610.5M517.1 605.9L516.6 605.5L516.6 605.3M519.8 610.4L519.2 610.3L519.2 610.4L519.3 610.8M509.9 604.3L509.6 604.0M510.9 606.4L510.6 606.0L510.4 606.1M534.7 610.4L534.3 610.3L534.4 610.4L534.0 610.1M511.0 607.2L510.6 606.8L510.8 607.0M519.7 612.1L519.4 612.4M531.1 607.1L530.8 606.8L530.6 606.8M508.2 604.6L508.2 604.4L508.4 604.5M518.2 608.9L518.3 609.0M514.3 608.8L514.3 608.7M514.2 608.6L514.8 608.8M518.6 605.7L518.8 606.1L518.3 605.7L518.1 605.7M528.9 608.4L529.2 608.6L529.8 608.8M517.4 610.0L516.9 609.7L516.9 610.1M517.5 610.0L518.0 610.4L518.3 610.9M508.4 605.0L508.4 604.6L508.2 604.8M530.8 607.3L531.2 607.5L530.7 607.1M512.0 607.3L511.8 607.4L511.7 607.7M515.0 607.0L515.0 606.7L515.0 606.8M527.8 610.8L528.0 610.7M518.2 607.2L518.5 607.3M510.0 606.1L510.2 606.5L510.3 606.2M514.5 604.0L514.8 604.1L515.1 604.1L515.4 604.1M516.6 612.2L516.5 611.8L516.0 611.7M518.2 607.6L518.4 608.0L518.5 608.4M516.1 605.6L515.6 605.3L514.8 604.9M516.1 606.9L515.6 606.7L515.4 606.3L515.1 606.0M506.4 606.0L506.7 606.3L506.5 606.4M506.1 607.2L505.7 606.9M507.5 604.9L507.7 605.0M505.1 606.9L505.2 607.0L505.1 607.1M504.8 606.6L504.5 606.6L504.6 606.8M506.9 605.2L507.0 605.0L507.1 605.3L507.1 605.4M507.9 606.5L507.7 606.8M509.2 607.5L508.9 607.5M504.2 604.5L504.1 604.8L504.1 604.6M509.0 607.6L509.1 607.4L508.7 607.2M507.0 607.9L507.4 608.0L507.7 608.3M505.0 604.6L505.0 604.5L504.9 604.6M503.8 607.2L503.8 606.9L503.6 606.6M507.0 607.3L507.0 607.2L507.4 607.5L507.7 607.4M504.6 605.2L504.5 605.3L504.4 605.4M505.6 604.4L505.9 604.6L505.8 604.2M506.0 605.8L506.1 605.6L506.0 605.8M506.8 607.0L507.2 607.3L507.0 607.2M505.3 608.6L505.3 608.7L505.2 609.0M504.4 605.0L504.1 604.7L504.0 605.0M502.8 606.0L502.8 606.2L502.5 606.1M506.5 607.4L506.6 607.4L506.6 607.6L506.4 608.0M503.0 604.7L502.7 604.6M471.0 604.5L470.4 604.9L469.8 605.1L470.4 604.6M491.2 606.3L491.1 606.4M482.3 610.5L482.2 610.4M474.8 601.9L474.3 602.2L474.1 602.2M490.3 607.9L490.4 607.4L490.5 607.9M475.7 610.0L475.6 610.4L475.8 609.9M466.9 606.2L467.5 605.8L468.9 605.4M478.3 606.8L478.5 606.9M488.1 607.4L488.3 607.5L488.4 607.4M460.4 609.1L460.9 608.5M468.6 609.4L467.5 609.7M480.8 611.7L480.7 612.2M481.0 608.7L481.7 608.4M486.3 608.9L485.6 609.3L485.4 608.9M491.9 607.0L491.6 607.4L492.0 607.3M469.4 607.4L468.5 607.6L468.7 607.3M471.8 608.0L472.3 607.9L471.8 607.9L472.2 607.6M476.7 604.7L477.5 604.4L477.1 604.7M476.9 606.7L477.9 606.2L477.5 606.1M482.3 604.7L482.7 604.7L483.1 604.7M478.7 610.4L478.9 610.7L479.0 610.2M489.3 608.1L489.3 608.3M474.0 607.5L474.2 607.4M471.7 608.1L472.1 608.2L472.6 607.8L472.3 607.8M483.0 605.2L482.6 605.4M474.4 602.5L474.1 602.5L474.5 602.5M466.3 605.1L465.8 605.3L466.7 605.1M485.5 605.8L485.8 605.7L485.3 606.0M471.0 603.9L472.1 603.4L472.8 603.3M472.9 609.4L473.2 609.0M472.1 611.2L472.3 611.2L472.4 611.3L472.2 611.1M478.9 604.8L479.2 604.7L479.9 604.4L480.3 604.2M494.4 607.1L494.6 606.9L494.5 607.1M480.5 611.1L480.1 611.2L480.0 611.6L480.4 611.7M472.4 601.4L472.0 601.6L472.8 601.2M466.1 608.1L465.3 608.5L465.5 608.5M487.4 607.8L487.3 607.9L487.5 608.3M485.2 608.7L485.5 608.6M482.1 609.8L481.5 610.3L481.3 610.4L481.4 610.6M466.7 608.1L467.1 608.2L467.4 607.8L466.8 608.1M472.6 602.8L472.7 602.7L473.8 602.3M475.8 605.3L475.4 605.5L474.8 605.9L474.7 606.1M491.8 610.2L492.3 609.7L492.5 609.7L492.9 609.4M476.2 605.2L476.1 605.2L476.5 605.1M480.7 603.1L481.1 602.8M473.9 602.5L473.2 602.8M461.7 606.0L462.6 605.6M467.8 605.6L467.4 605.7L467.6 605.6M490.1 604.0M492.2 605.3L491.9 605.6L491.9 605.2M482.6 611.1L482.1 611.4M467.2 605.0L468.2 604.6M484.9 610.0L485.2 609.7L485.0 609.3M478.5 606.5L478.6 606.7L479.3 606.2M468.5 603.3L467.1 603.7M491.7 603.9L491.7 603.9M488.2 606.9L488.0 606.7L488.2 606.4M485.5 604.1L485.4 604.1L485.9 603.8M477.3 603.5L478.2 603.0L478.1 603.2L477.9 603.2M461.2 607.2L462.0 606.7L462.8 606.1M476.1 606.2L475.3 606.7L474.3 607.2L474.8 606.7M484.5 606.3L484.8 606.2L485.1 606.1L484.9 606.4M485.0 608.1L484.3 608.5L484.1 608.1M495.9 607.0L496.1 607.4L496.0 607.2M492.1 610.9L491.9 611.0M488.3 604.2L488.4 604.2M493.1 605.9L493.4 605.5L493.0 606.0L493.0 605.9M497.6 604.4L497.8 604.3L497.5 604.3L497.9 604.2M470.4 611.0L471.5 610.7M463.4 608.7L463.4 608.4L463.7 608.0L462.5 608.5M490.9 606.3L490.8 606.7L491.1 606.5M483.2 603.6L482.7 604.0L481.6 604.4M494.8 606.7L494.6 606.9M487.4 603.9L487.2 604.1L487.8 603.9L487.3 604.2M490.6 608.3L491.3 608.0L491.2 608.3L491.1 607.7M489.3 605.2L489.8 605.0L489.1 605.3M492.4 607.5L492.4 607.3L492.7 606.9M459.2 605.6L460.1 605.0L461.0 604.8L459.9 605.1M496.2 604.2M491.9 606.6L491.5 607.0L491.8 606.7L491.7 606.4M484.7 606.1L485.4 605.7L484.8 606.2L484.8 606.2M478.7 608.5L478.6 608.4M496.0 605.1L496.0 605.0L495.6 605.3M472.2 603.7L471.9 603.8L472.9 603.5M477.9 602.5L476.9 602.9L477.6 602.6L477.7 602.5M473.8 606.2L472.9 606.4M479.5 610.0L480.0 609.5L480.6 609.1M459.0 606.4L457.8 606.9L457.2 606.9M486.7 608.0L487.2 607.9M496.3 606.6L496.1 606.5M488.5 604.0M470.8 608.7L471.2 608.2L470.9 608.7M476.4 611.5L476.1 611.4M490.0 605.8L489.3 606.2L489.9 605.7L489.9 605.9M485.0 605.4L484.8 605.6M473.3 607.6L472.6 607.9L472.6 607.6L472.5 607.3M461.3 609.3L461.1 609.0L461.5 608.7M492.6 604.3L493.0 604.2L492.8 604.4L493.0 604.4M480.8 610.7L480.8 611.1L481.1 610.7M472.5 609.8L471.9 610.2L472.2 609.8L471.5 610.2M476.5 608.6L476.8 608.1L477.0 607.6L476.7 607.9M475.6 608.9L476.5 608.4L476.1 608.6M465.9 607.8L466.6 607.4L466.7 607.0L467.5 606.5M471.1 601.7L471.0 601.7L472.3 601.4M469.5 607.1L469.3 607.5M478.2 610.6L477.9 610.9L477.7 610.7M493.8 605.0L493.8 605.3L493.6 605.1L493.5 605.4M465.4 610.3L466.4 609.9L466.1 610.1L466.2 609.9M479.4 604.6L479.2 604.9L479.6 604.5M469.7 609.3L470.4 608.9L470.9 608.4M470.4 608.6L471.2 608.2L472.0 607.8M466.0 609.3L465.1 609.9L464.8 610.3L463.9 610.7M480.6 610.5L480.7 610.1L479.7 610.5M484.5 610.5L484.9 610.4M474.5 609.2L474.7 608.7L474.2 609.3L473.9 609.2M476.5 609.0L476.7 608.6M477.7 609.7L477.4 609.5L477.3 609.9M494.0 604.6L494.2 604.5L494.0 605.0L494.0 605.4M472.7 607.3L473.5 606.9L474.4 606.4M471.2 607.0L470.4 607.4M484.7 609.1L484.4 609.6L483.7 609.9L483.3 610.2M483.3 610.1L484.1 609.9L484.6 609.8L485.3 609.4M482.4 609.7L482.8 609.4L481.9 609.8M458.3 608.9L458.3 609.2L458.4 609.0M468.7 604.0L468.7 603.9L468.8 604.0M484.0 604.1L483.7 604.4L484.2 604.1L484.0 604.2M484.4 610.2L484.3 610.0L484.3 609.9L484.4 610.0M468.6 608.3L468.4 608.2L468.6 608.4M469.5 608.1L469.8 607.8L468.8 608.2M493.4 608.8L493.6 608.4M477.8 604.3L478.5 604.2L478.6 604.3M482.7 610.9L483.1 610.5L483.5 610.5M489.8 606.0L489.8 605.8L490.1 605.6L489.6 606.0M467.3 601.4L468.3 601.2M473.1 600.7L473.0 600.7M470.1 600.8L470.2 600.8L470.5 600.7M466.4 603.1L466.0 603.1L466.0 603.0M465.4 603.2L465.0 603.5L465.7 603.2M471.9 601.3L472.0 601.3L471.8 601.3L471.9 601.3M467.6 601.9L467.6 601.9M473.7 600.3L474.8 600.1L474.6 600.2M474.8 600.0M463.8 601.7L464.5 601.6L463.7 601.8M470.6 601.6L470.7 601.6L470.2 601.8L470.1 601.9M470.5 601.1L469.4 601.2L469.6 601.3L469.4 601.4M458.5 603.3L458.4 603.2M467.6 601.9L467.5 601.9L466.7 602.1M461.8 604.0L462.5 603.7M471.3 600.5L471.5 600.5M461.9 602.3L461.4 602.4L462.1 602.1M464.7 602.6L463.9 602.9L463.6 602.9L462.8 603.2M461.7 602.2L462.5 601.8L462.2 602.0M472.5 601.1L472.0 601.2L473.0 601.0M456.1 614.5L455.9 614.6L455.4 615.2M454.5 619.3L454.9 619.7M464.4 624.2L464.3 624.0L464.9 624.1L465.6 624.1M462.0 618.6L461.2 619.1L461.3 619.4M458.8 614.4L458.5 614.3M468.3 614.0L467.8 614.2L467.9 614.3M479.9 619.1L480.5 618.9L481.4 618.3M468.1 619.4L468.1 619.5L467.8 620.0M475.0 616.3L474.9 616.6M471.2 617.7L470.7 617.4L471.2 617.1M454.2 622.5L454.0 621.9M477.4 615.3L476.7 615.5L476.0 615.9M470.8 621.9L471.3 622.0L471.5 621.9L472.3 621.4M454.5 619.5L454.6 620.2L454.8 620.3M456.9 621.3L456.8 621.9L455.9 622.3M454.4 620.6L454.8 620.5L455.4 620.0L455.2 620.4M465.9 618.0L466.2 618.0L466.4 618.5L466.9 618.3M481.2 613.8L481.9 613.7M449.9 619.9L449.7 620.5L449.9 620.6M476.4 614.2L476.3 614.4L476.9 614.5M461.0 617.9L461.2 617.7L461.0 617.5L461.7 617.2M462.5 623.0L461.8 623.4L462.1 623.7M465.8 611.1L465.6 611.2L465.0 611.3M458.4 614.3L457.7 614.6L457.6 614.6L457.9 614.9M465.4 612.3L465.1 612.6L464.8 613.1M469.4 611.9L469.4 612.0L470.2 611.6M451.8 620.6L451.3 621.2L451.6 621.5M451.9 620.3L451.4 620.3M466.0 621.6L465.3 621.6M472.1 621.3L471.5 621.3L471.3 621.6M463.1 625.8L463.4 625.7M455.4 621.6L455.4 622.3L454.9 622.7M468.3 611.5L468.2 611.2L468.2 611.0M463.9 615.9L463.6 616.1L463.5 616.2M453.6 616.0L454.7 615.5L454.7 615.5L454.0 615.7M464.9 624.8L464.3 624.8L464.8 625.4M451.6 618.0L451.1 618.1L450.7 617.9M450.4 624.1L450.3 624.2M460.2 618.9L460.4 619.4L460.1 619.4M466.3 620.7L466.2 620.7L466.2 620.8M468.1 616.6L469.2 616.1L469.6 615.7M455.9 614.5L455.9 614.6L455.9 614.4M461.2 612.0L461.1 612.4M474.8 616.1L474.9 616.3L475.0 616.4M467.3 617.5L466.7 617.8L467.1 618.2L467.2 618.6M477.4 616.9L477.3 617.1L477.3 617.1M458.7 616.6L459.5 616.1M471.8 613.5L471.7 614.0M465.9 618.3L466.5 617.7M465.8 619.0L466.2 618.4L465.8 618.4L465.1 618.5M468.5 620.0L468.0 620.6M466.2 622.8L465.4 623.2L465.8 623.8M458.2 613.9L458.2 613.6L458.4 613.2M474.5 614.1L474.2 614.1M465.1 620.5L464.5 620.3L464.0 620.3L464.1 620.8M455.0 622.4L454.7 621.7L454.9 621.4L454.5 621.9M454.7 623.1L455.4 622.9L455.9 622.9M466.2 610.6L466.0 611.2L465.3 611.6M470.3 613.0L470.0 612.9M471.1 617.2L471.9 617.0L471.6 617.3L472.3 617.4M461.9 617.6L462.5 617.5L461.6 617.9M461.2 618.5L460.9 618.7L460.3 618.5L459.6 619.1M470.9 611.4L471.4 611.1M453.8 619.2L453.5 619.5M468.1 618.1L468.4 618.7L468.7 618.4M479.5 615.2L479.1 615.4M478.2 613.7L478.3 613.9L478.8 613.7M467.5 616.4L468.2 616.2L468.2 615.9M475.0 613.3L475.4 612.8L476.2 612.3L475.5 612.6M461.7 619.7L462.4 619.6L462.1 619.3M459.4 616.7L458.5 617.0L459.1 616.9M458.2 620.1L458.3 619.7L458.5 619.2L457.9 619.2M453.6 625.1L453.6 625.5L452.7 626.1M469.2 612.6L469.8 612.5L469.8 612.2M458.8 612.6L458.2 613.2L458.2 613.0M529.9 616.2L529.2 615.8L529.9 616.2M530.7 614.0L530.5 614.1L529.6 613.7L529.2 613.2M521.0 616.6L520.8 617.1L520.4 617.1M539.4 618.7L539.3 618.6L539.3 618.6M533.4 616.0L533.0 615.9L533.3 615.9M520.3 616.3L520.4 616.4L520.6 616.6L520.2 616.6M520.6 614.3L520.1 614.2L519.7 613.7M522.8 617.4L523.0 617.7L523.7 617.8M531.3 612.1L531.5 612.3L531.8 612.3M534.6 612.0L534.7 612.2L535.6 612.6L536.4 613.0M534.9 618.4L534.3 618.4L533.9 617.9M526.7 620.7L527.1 621.0L527.0 621.2M531.1 620.2L530.7 620.2L530.0 619.8L530.6 620.0M532.8 613.3L532.8 613.8L533.5 614.0M526.5 616.4L526.4 616.9L526.5 616.5L527.1 616.9M537.3 617.8L537.3 617.2L537.4 617.7L536.6 617.3M518.2 613.3L518.3 613.4L518.6 613.4M529.6 618.6L529.7 618.1L529.3 618.4L529.6 618.2M525.9 618.6L526.4 619.1M519.7 612.6L520.1 613.1L519.8 613.1M533.4 616.7L533.2 616.3M536.2 612.5L536.7 612.7L536.7 613.0M532.0 618.5L531.8 618.7L531.3 618.8M527.6 619.7L528.0 619.3L528.3 619.4L528.1 619.5M529.3 618.7L529.7 618.5L529.4 618.5M538.6 614.3L538.8 613.9L539.4 614.3L540.1 614.8M536.4 618.3L536.6 618.3L536.9 618.4M532.9 617.7L532.9 617.6L533.7 617.8L533.6 617.5M526.9 615.1L527.6 615.3L527.5 615.0L526.8 614.7M530.0 612.2L529.4 611.9L529.9 612.0M532.3 616.5L531.6 616.2L531.7 616.6M524.9 619.4L524.3 619.3L523.7 618.8M536.7 615.1L536.6 615.2M539.2 617.8L539.0 618.1L538.6 618.3L539.0 618.2M532.9 622.5L532.6 622.6L532.0 622.5L532.5 622.8M523.3 618.0L523.4 618.0L524.0 618.2M525.4 616.7L525.8 616.9L525.7 617.2M530.3 613.0L529.4 612.6L528.9 612.3M537.1 614.2L536.7 614.0L536.6 614.1L536.4 613.7M528.8 619.0L529.5 619.3L530.0 619.0M527.1 615.7L527.8 616.1L527.9 616.2M525.5 612.5L525.0 612.5M537.5 614.3L537.5 614.4L538.0 614.4L537.9 614.4M535.9 614.9L536.2 615.4L536.4 615.3M533.7 613.8L532.9 613.5M553.8 635.0L553.9 635.6L554.2 635.3M544.5 656.2L544.4 656.7L543.7 657.3L543.7 657.5M548.0 631.4L548.8 631.7L548.5 632.0M549.6 634.7L549.6 634.8L548.9 635.1L549.5 634.7M540.5 655.9L541.2 655.7L541.1 656.2M557.0 649.4L557.6 649.3L556.9 649.5L556.8 649.7M551.1 649.4L550.7 649.4L550.0 649.8M561.1 641.8L561.7 641.9L562.1 642.6L562.0 642.4M545.8 641.7L545.1 641.4L545.4 641.9M428.0 626.2L428.4 626.2L428.2 625.6M433.3 635.6L432.7 635.1L433.4 635.3L433.6 635.7M425.9 632.5L426.3 632.1L425.9 632.6M434.4 648.7L434.8 649.5L434.5 649.2M425.5 634.2L425.0 634.8M426.3 644.0L425.5 643.5L424.7 642.7L425.2 641.9M432.3 645.5L431.4 645.0L431.6 644.3M427.7 646.4L427.8 646.3L427.6 647.1M479.0 637.9L478.6 637.8L479.0 637.9M468.7 637.6L468.5 637.4L468.3 637.7M466.2 635.7L466.1 635.6L465.8 635.9M465.0 637.4L465.3 637.6M460.3 634.2L460.4 634.5L460.2 634.2M463.6 640.0L463.9 640.0M474.9 637.9L474.6 638.0L474.3 638.1M480.3 640.0L480.1 640.0L480.3 639.8M470.2 627.4L470.1 627.1M477.6 639.1L477.3 639.2L477.0 639.3M548.9 632.4L549.0 632.2L548.9 632.0M542.1 630.3L542.4 630.1L542.6 629.9M552.3 632.0L552.4 631.7L552.3 631.7M540.4 622.3L540.3 622.1" fill="none" stroke="#140a0a" stroke-width="0.5" stroke-linecap="round" stroke-linejoin="round" opacity="0.85"/>
<path d="M558.1 636.6L557.3 637.1L556.0 637.5L554.7 638.1L553.8 638.1L552.5 638.4L551.7 638.1L550.3 638.3" fill="none" stroke="#100808" stroke-width="1.0" stroke-linejoin="round"/>
<path d="M447.4 611.1L449.0 610.3L450.1 609.9L451.3 609.5L451.4 609.9L450.7 610.1L450.1 610.7L451.0 610.5L451.5 610.4L451.9 609.9L452.8 609.8L453.6 609.7L452.6 610.2L451.6 610.5L451.3 610.8L451.0 611.4L450.6 612.1L449.9 612.6L449.2 612.6L448.6 612.7L448.5 612.1L448.2 611.9L447.1 612.1L446.4 612.0L446.4 611.7ZM455.5 610.6L456.4 610.5L456.6 610.9L455.5 611.6L454.6 611.7L453.4 612.4L453.3 613.0L452.1 614.0L451.8 614.6L450.6 615.6L449.9 615.6L449.6 615.2L450.0 614.6L451.4 613.6L452.0 612.8L452.8 612.0L453.9 611.2ZM458.7 611.3L457.8 612.0L456.3 612.6L456.6 612.1L458.0 611.2ZM475.4 610.2L477.1 609.4L477.9 609.1L476.9 609.8L475.9 610.2L474.9 610.6L474.1 610.8ZM529.9 612.3L530.4 612.3L530.9 612.2L531.9 612.8L531.2 612.9L530.7 612.9L530.2 612.9L529.5 613.0L529.7 612.7ZM531.9 613.9L532.3 613.8L532.4 613.4L532.9 614.2L533.4 615.0L532.9 615.1ZM533.3 613.2L534.1 613.7L534.3 614.4L533.5 613.7L532.4 613.2L532.4 613.4L532.4 613.3L532.5 613.1ZM534.7 614.8L534.9 614.4L535.1 614.1L535.5 613.9L535.9 613.7L536.2 614.0L535.6 614.4L535.1 614.7L534.6 615.1ZM431.8 636.1L431.9 637.9L431.1 637.9L431.1 636.6ZM516.4 606.7L516.9 606.6L517.1 607.3L516.7 607.4L516.4 607.5L516.0 607.4L516.2 607.0ZM512.9 605.0L513.7 605.4L513.6 605.6L513.5 605.8L513.0 605.7L512.6 605.7L512.7 605.3ZM525.3 611.0L524.5 610.4L524.7 610.0L525.3 610.7L525.8 611.5Z" fill="#cdeef8" stroke="#140c0c" stroke-width="0.45" stroke-linejoin="round"/>
<path d="M508.6 626.8h1M508.1 626.2h1M507.4 625.9h1M506.7 625.6h1M496.3 644.9h1M496.9 644.4h1M491.0 643.9h1M491.7 644.9h1M492.3 645.8h1M487.5 641.0h1M486.0 640.0h1M487.0 640.3h1M488.2 641.3h1M485.3 639.3h1M501.0 643.0h1M511.5 644.9h1M516.4 640.7h1M480.6 629.4h1M480.5 629.7h1M475.3 632.5h1M483.6 632.7h1M486.6 632.9h1M492.8 632.9h1M493.7 635.6h1M508.1 635.4h1M499.6 646.5h1M506.5 646.6h1M490.6 636.5h1M443.8 647.8h1M443.4 648.4h1M447.3 634.1h1M447.3 640.3h1M456.6 629.9h1M456.6 632.3h1M551.6 628.3h1M551.0 627.4h1M552.2 630.5h1M539.9 636.6h1M539.5 636.4h1M528.5 649.9h1M462.6 662.2h1M536.0 663.1h1M535.7 663.1h1M539.2 665.4h1M474.4 623.1h1M475.4 622.2h1M480.6 623.0h1M488.4 613.4h1M487.0 614.2h1M485.6 614.9h1M489.9 612.3h1M499.2 611.8h1M500.2 611.7h1M501.5 611.5h1M502.4 611.2h1M495.9 611.3h1M497.8 611.9h1M493.9 610.4h1M554.7 614.4h1M553.6 614.2h1M563.2 619.1h1M563.7 619.2h1M560.5 616.6h1M566.2 627.2h1M565.5 626.2h1M442.2 610.0h1M440.4 611.1h1M439.4 612.8h1M440.5 614.9h1M442.6 615.5h1M436.2 643.3h1M437.1 643.9h1M440.0 639.0h1M544.8 619.0h1M542.2 623.4h1M541.8 622.4h1M500.8 606.9h1M502.3 608.4h1M470.5 629.7h1M469.9 630.7h1M468.0 631.3h1M482.9 637.6h1M483.5 637.9h1M481.3 637.3h1M473.4 640.3h1M475.2 639.4h1M473.9 640.1h1M470.9 637.2h1M471.3 638.0h1M470.4 637.2h1" stroke="#201818" stroke-width="0.9" fill="none" opacity="0.8"/>
<path d="M461.5 670.5h-5.5M540.5 670.5h5.5M440.5 661.7h-5.5M561.5 661.7h5.5M426.8 649.8h-5.5M575.2 649.8h5.5M422.0 636.3h-5.5M580.0 636.3h5.5M426.8 622.8h-5.5M575.2 622.8h5.5M440.5 610.9h-5.5M561.5 610.9h5.5M461.5 602.1h-5.5M540.5 602.1h5.5M479.4 602.0v-5M479.4 670.6v3M489.1 603.7v-5M489.1 668.9v3M501.0 604.3v-5M501.0 668.3v5M512.9 603.7v-5M512.9 668.9v3M522.6 602.0v-5M522.6 670.6v3" stroke="#000" stroke-width="1.1" fill="none"/>
<path d="M474.0 673.4L471.0 672.8L468.0 672.2L465.1 671.5L462.3 670.7L459.5 669.9L456.8 669.0L454.2 668.1L451.6 667.1L449.2 666.1L446.8 665.0L444.5 663.9L442.3 662.7L440.2 661.5L438.2 660.3L436.3 659.0L434.5 657.6L432.8 656.2L431.2 654.8L429.8 653.4L428.5 651.9L427.2 650.5L426.2 648.9L425.2 647.4L424.3 645.9L423.6 644.3L423.0 642.7L422.6 641.1L422.3 639.5L422.1 637.9L422.0 636.3L422.1 634.7L422.3 633.1L422.6 631.5L423.0 629.9L423.6 628.3L424.3 626.7L425.2 625.2L426.2 623.7L427.2 622.1L428.5 620.7L429.8 619.2L431.2 617.8L432.8 616.4L434.5 615.0L436.3 613.6L438.2 612.3L440.2 611.1L442.3 609.9L444.5 608.7L446.8 607.6L449.2 606.5L451.6 605.5L454.2 604.5L456.8 603.6L459.5 602.7L462.3 601.9L465.1 601.1L468.0 600.4L471.0 599.8L474.0 599.2L474.3 599.5L474.6 599.8L475.0 600.1L475.5 600.4L476.0 600.7L476.6 601.0L477.2 601.3L477.9 601.5L478.6 601.8L479.4 602.0L480.2 602.2L481.1 602.4L482.0 602.6L482.9 602.8L483.9 603.0L484.9 603.2L485.9 603.3L486.9 603.5L488.0 603.6L489.1 603.7L490.3 603.8L491.4 603.9L492.6 604.0L493.7 604.1L494.9 604.1L496.1 604.2L497.3 604.2L498.6 604.2L499.8 604.3L501.0 604.3L502.2 604.3L503.4 604.2L504.7 604.2L505.9 604.2L507.1 604.1L508.3 604.1L509.4 604.0L510.6 603.9L511.7 603.8L512.9 603.7L514.0 603.6L515.1 603.5L516.1 603.3L517.1 603.2L518.1 603.0L519.1 602.8L520.0 602.6L520.9 602.4L521.8 602.2L522.6 602.0L523.4 601.8L524.1 601.5L524.8 601.3L525.4 601.0L526.0 600.7L526.5 600.4L527.0 600.1L527.4 599.8L527.7 599.5L528.0 599.2L531.0 599.8L534.0 600.4L536.9 601.1L539.7 601.9L542.5 602.7L545.2 603.6L547.8 604.5L550.4 605.5L552.8 606.5L555.2 607.6L557.5 608.7L559.7 609.9L561.8 611.1L563.8 612.3L565.7 613.6L567.5 615.0L569.2 616.4L570.8 617.8L572.2 619.2L573.5 620.7L574.8 622.1L575.8 623.7L576.8 625.2L577.7 626.7L578.4 628.3L579.0 629.9L579.4 631.5L579.7 633.1L579.9 634.7L580.0 636.3L579.9 637.9L579.7 639.5L579.4 641.1L579.0 642.7L578.4 644.3L577.7 645.9L576.8 647.4L575.8 648.9L574.8 650.5L573.5 651.9L572.2 653.4L570.8 654.8L569.2 656.2L567.5 657.6L565.7 659.0L563.8 660.3L561.8 661.5L559.7 662.7L557.5 663.9L555.2 665.0L552.8 666.1L550.4 667.1L547.8 668.1L545.2 669.0L542.5 669.9L539.7 670.7L536.9 671.5L534.0 672.2L531.0 672.8L528.0 673.4L527.7 673.1L527.4 672.8L527.0 672.5L526.5 672.2L526.0 671.9L525.4 671.6L524.8 671.3L524.1 671.1L523.4 670.8L522.6 670.6L521.8 670.4L520.9 670.2L520.0 670.0L519.1 669.8L518.1 669.6L517.1 669.4L516.1 669.3L515.1 669.1L514.0 669.0L512.9 668.9L511.7 668.8L510.6 668.7L509.4 668.6L508.3 668.5L507.1 668.5L505.9 668.4L504.7 668.4L503.4 668.4L502.2 668.3L501.0 668.3L499.8 668.3L498.6 668.4L497.3 668.4L496.1 668.4L494.9 668.5L493.7 668.5L492.6 668.6L491.4 668.7L490.3 668.8L489.1 668.9L488.0 669.0L486.9 669.1L485.9 669.3L484.9 669.4L483.9 669.6L482.9 669.8L482.0 670.0L481.1 670.2L480.2 670.4L479.4 670.6L478.6 670.8L477.9 671.1L477.2 671.3L476.6 671.6L476.0 671.9L475.5 672.2L475.0 672.5L474.6 672.8L474.3 673.1Z" fill="none" stroke="#000" stroke-width="1.9" stroke-linejoin="round"/>
<text x="43" y="718" font-size="5.4" font-weight="bold" font-style="italic" fill="#000" stroke="#000" stroke-width="0.4" textLength="53" lengthAdjust="spacingAndGlyphs">AOML/NOAA, 2008/08/04</text>
</svg>
</body></html>
